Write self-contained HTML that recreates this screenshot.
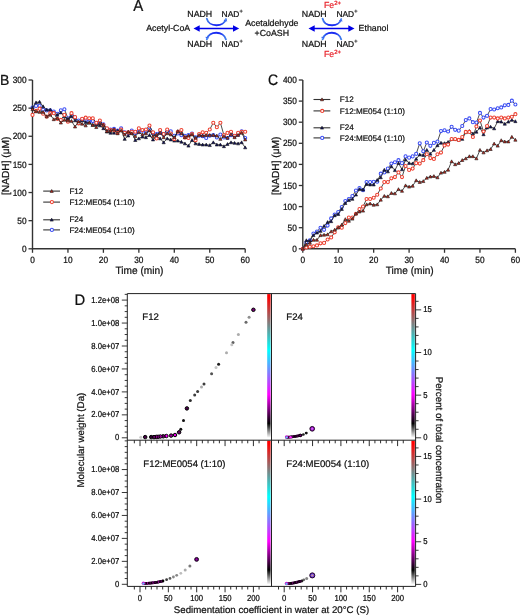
<!DOCTYPE html><html><head><meta charset="utf-8"><style>html,body{margin:0;padding:0;background:#fff;}svg{display:block;font-family:"Liberation Sans", sans-serif;will-change:transform;}text{fill:#111;stroke:#111;stroke-width:0.22px;text-rendering:geometricPrecision;}</style></head><body>
<svg width="520" height="615" viewBox="0 0 520 615">
<defs><linearGradient id="cb" x1="0" y1="0" x2="0" y2="1"><stop offset="0.02" stop-color="#ff0000"/><stop offset="0.39" stop-color="#00ffff"/><stop offset="0.7" stop-color="#ff00ff"/><stop offset="0.9" stop-color="#000000"/><stop offset="1" stop-color="#ffffff"/></linearGradient><linearGradient id="arc" x1="0" y1="0" x2="1" y2="0"><stop offset="0" stop-color="#4080ec"/><stop offset="0.3" stop-color="#1a2cf2"/><stop offset="0.7" stop-color="#1a2cf2"/><stop offset="1" stop-color="#4080ec"/></linearGradient><radialGradient id="g24"><stop offset="0" stop-color="#e090ff"/><stop offset="0.55" stop-color="#b020e0"/><stop offset="1" stop-color="#600070"/></radialGradient><radialGradient id="g12"><stop offset="0" stop-color="#a000b0"/><stop offset="1" stop-color="#40004a"/></radialGradient><radialGradient id="g24m"><stop offset="0" stop-color="#80b0ff"/><stop offset="0.5" stop-color="#8050e0"/><stop offset="1" stop-color="#6020a0"/></radialGradient></defs>
<text transform="translate(133.2,10.6) scale(1,1.07)" font-size="15">A</text>
<g font-size="8.8">
<text x="146.2" y="30.9">Acetyl-CoA</text>
<text x="187.3" y="16.8">NADH</text><text x="221.6" y="16.8" font-size="8.45">NAD<tspan font-size="5.6" dy="-3.8">+</tspan></text>
<text x="187.3" y="47.1">NADH</text><text x="221.6" y="47.1" font-size="8.45">NAD<tspan font-size="5.6" dy="-3.8">+</tspan></text>
<text x="271.8" y="25.6" text-anchor="middle">Acetaldehyde</text>
<text x="271.8" y="36" text-anchor="middle">+CoASH</text>
<text x="301.8" y="17.2">NADH</text><text x="336.4" y="17.2" font-size="8.45">NAD<tspan font-size="5.6" dy="-3.8">+</tspan></text>
<text x="301.8" y="46.9">NADH</text><text x="336.4" y="46.9" font-size="8.45">NAD<tspan font-size="5.6" dy="-3.8">+</tspan></text>
<text x="358.6" y="30.6">Ethanol</text>
<text x="324" y="7.9" style="fill:#e8232b;stroke:#e8232b">Fe<tspan font-size="6" dy="-3.4">2+</tspan></text>
<text x="324" y="57.2" style="fill:#e8232b;stroke:#e8232b">Fe<tspan font-size="6" dy="-3.4">2+</tspan></text>
</g>
<line x1="198.5" y1="28.45" x2="234.2" y2="28.45" stroke="#0000e6" stroke-width="1.6"/><path d="M193.5 28.45L199.7 25.2L199.7 31.7Z" fill="#0000e6"/><path d="M239.2 28.45L233 25.2L233 31.7Z" fill="#0000e6"/>
<line x1="313.5" y1="28.45" x2="349.5" y2="28.45" stroke="#0000e6" stroke-width="1.6"/><path d="M308.5 28.45L314.7 25.2L314.7 31.7Z" fill="#0000e6"/><path d="M354.5 28.45L348.3 25.2L348.3 31.7Z" fill="#0000e6"/>
<path d="M206.8 18.6 C208.8 27.4 223.9 27.4 225.9 19.2" fill="none" stroke="url(#arc)" stroke-width="1.9" stroke-linecap="round"/><path d="M206.8 39.2 C208.8 30.6 223.9 30.6 225.9 39.4" fill="none" stroke="url(#arc)" stroke-width="1.9" stroke-linecap="round"/><path d="M226.04 18.62L227.27 21.59L223.58 20.69Z" fill="#3a5cf2"/><circle cx="225.76" cy="19.78" r="0.55" fill="#70d8ff"/><path d="M206.66 39.78L205.4 36.82L209.1 37.68Z" fill="#3a5cf2"/><circle cx="206.94" cy="38.62" r="0.55" fill="#70d8ff"/>
<path d="M322.6 18.6 C324.6 27.4 339.2 27.4 341.2 19.2" fill="none" stroke="url(#arc)" stroke-width="1.9" stroke-linecap="round"/><path d="M322.6 39.2 C324.6 30.6 339.2 30.6 341.2 39.4" fill="none" stroke="url(#arc)" stroke-width="1.9" stroke-linecap="round"/><path d="M341.34 18.62L342.57 21.59L338.88 20.69Z" fill="#3a5cf2"/><circle cx="341.06" cy="19.78" r="0.55" fill="#70d8ff"/><path d="M322.46 39.78L321.2 36.82L324.9 37.68Z" fill="#3a5cf2"/><circle cx="322.74" cy="38.62" r="0.55" fill="#70d8ff"/>
<path d="M32.5 80L32.5 248.8L245.2 248.8" fill="none" stroke="#333333" stroke-width="1.4"/>
<line x1="28.5" y1="248.8" x2="32.5" y2="248.8" stroke="#333333" stroke-width="1.3"/>
<text transform="translate(26.5,251.9) scale(1,1.1)" font-size="8.3" text-anchor="end">0</text>
<line x1="28.5" y1="220.67" x2="32.5" y2="220.67" stroke="#333333" stroke-width="1.3"/>
<text transform="translate(26.5,223.77) scale(1,1.1)" font-size="8.3" text-anchor="end">50</text>
<line x1="28.5" y1="192.53" x2="32.5" y2="192.53" stroke="#333333" stroke-width="1.3"/>
<text transform="translate(26.5,195.63) scale(1,1.1)" font-size="8.3" text-anchor="end">100</text>
<line x1="28.5" y1="164.4" x2="32.5" y2="164.4" stroke="#333333" stroke-width="1.3"/>
<text transform="translate(26.5,167.5) scale(1,1.1)" font-size="8.3" text-anchor="end">150</text>
<line x1="28.5" y1="136.27" x2="32.5" y2="136.27" stroke="#333333" stroke-width="1.3"/>
<text transform="translate(26.5,139.37) scale(1,1.1)" font-size="8.3" text-anchor="end">200</text>
<line x1="28.5" y1="108.13" x2="32.5" y2="108.13" stroke="#333333" stroke-width="1.3"/>
<text transform="translate(26.5,111.23) scale(1,1.1)" font-size="8.3" text-anchor="end">250</text>
<line x1="28.5" y1="80" x2="32.5" y2="80" stroke="#333333" stroke-width="1.3"/>
<text transform="translate(26.5,83.1) scale(1,1.1)" font-size="8.3" text-anchor="end">300</text>
<line x1="32.5" y1="248.8" x2="32.5" y2="252.8" stroke="#333333" stroke-width="1.3"/>
<text transform="translate(32.5,262.7) scale(1,1.1)" font-size="8.3" text-anchor="middle">0</text>
<line x1="67.95" y1="248.8" x2="67.95" y2="252.8" stroke="#333333" stroke-width="1.3"/>
<text transform="translate(67.95,262.7) scale(1,1.1)" font-size="8.3" text-anchor="middle">10</text>
<line x1="103.4" y1="248.8" x2="103.4" y2="252.8" stroke="#333333" stroke-width="1.3"/>
<text transform="translate(103.4,262.7) scale(1,1.1)" font-size="8.3" text-anchor="middle">20</text>
<line x1="138.85" y1="248.8" x2="138.85" y2="252.8" stroke="#333333" stroke-width="1.3"/>
<text transform="translate(138.85,262.7) scale(1,1.1)" font-size="8.3" text-anchor="middle">30</text>
<line x1="174.3" y1="248.8" x2="174.3" y2="252.8" stroke="#333333" stroke-width="1.3"/>
<text transform="translate(174.3,262.7) scale(1,1.1)" font-size="8.3" text-anchor="middle">40</text>
<line x1="209.75" y1="248.8" x2="209.75" y2="252.8" stroke="#333333" stroke-width="1.3"/>
<text transform="translate(209.75,262.7) scale(1,1.1)" font-size="8.3" text-anchor="middle">50</text>
<line x1="245.2" y1="248.8" x2="245.2" y2="252.8" stroke="#333333" stroke-width="1.3"/>
<text transform="translate(245.2,262.7) scale(1,1.1)" font-size="8.3" text-anchor="middle">60</text>
<text transform="translate(139.45,273.7) scale(1,1.05)" font-size="10.15" text-anchor="middle">Time (min)</text>
<text transform="translate(8.9,165.8) rotate(-90)" font-size="10.2" text-anchor="middle">[NADH] (&#956;M)</text>
<text transform="translate(0,85) scale(1,1.04)" font-size="14" >B</text>
<polyline points="32.5,107.57 36.05,105.88 39.59,105.88 43.13,109.82 46.68,110.38 50.23,110.38 53.77,111.51 57.31,113.76 60.86,110.38 64.41,109.26 67.95,118.26 71.5,114.89 75.04,117.7 78.59,120.51 82.13,119.39 85.67,119.95 89.22,121.64 92.77,121.07 96.31,123.33 99.86,122.76 103.4,124.45 106.94,128.95 110.49,129.51 114.03,128.95 117.58,130.64 121.12,128.39 124.67,132.33 128.22,132.89 131.76,130.64 135.31,132.89 138.85,131.77 142.39,130.64 145.94,132.33 149.49,129.51 153.03,133.45 156.57,134.02 160.12,132.89 163.66,134.58 167.21,131.77 170.75,131.2 174.3,135.7 177.84,133.45 181.39,135.14 184.94,135.7 188.48,135.14 192.03,133.45 195.57,137.39 199.12,135.7 202.66,136.27 206.2,137.95 209.75,135.7 213.29,135.14 216.84,137.39 220.38,134.58 223.93,137.39 227.47,137.95 231.02,135.14 234.56,136.27 238.11,134.58 241.66,131.2 245.2,137.95" fill="none" stroke="#1e1e1e" stroke-width="0.8"/><circle cx="32.5" cy="107.57" r="1.55" fill="#fff" stroke="#3a4cf4" stroke-width="1.05"/><circle cx="36.05" cy="105.88" r="1.55" fill="#fff" stroke="#3a4cf4" stroke-width="1.05"/><circle cx="39.59" cy="105.88" r="1.55" fill="#fff" stroke="#3a4cf4" stroke-width="1.05"/><circle cx="43.13" cy="109.82" r="1.55" fill="#fff" stroke="#3a4cf4" stroke-width="1.05"/><circle cx="46.68" cy="110.38" r="1.55" fill="#fff" stroke="#3a4cf4" stroke-width="1.05"/><circle cx="50.23" cy="110.38" r="1.55" fill="#fff" stroke="#3a4cf4" stroke-width="1.05"/><circle cx="53.77" cy="111.51" r="1.55" fill="#fff" stroke="#3a4cf4" stroke-width="1.05"/><circle cx="57.31" cy="113.76" r="1.55" fill="#fff" stroke="#3a4cf4" stroke-width="1.05"/><circle cx="60.86" cy="110.38" r="1.55" fill="#fff" stroke="#3a4cf4" stroke-width="1.05"/><circle cx="64.41" cy="109.26" r="1.55" fill="#fff" stroke="#3a4cf4" stroke-width="1.05"/><circle cx="67.95" cy="118.26" r="1.55" fill="#fff" stroke="#3a4cf4" stroke-width="1.05"/><circle cx="71.5" cy="114.89" r="1.55" fill="#fff" stroke="#3a4cf4" stroke-width="1.05"/><circle cx="75.04" cy="117.7" r="1.55" fill="#fff" stroke="#3a4cf4" stroke-width="1.05"/><circle cx="78.59" cy="120.51" r="1.55" fill="#fff" stroke="#3a4cf4" stroke-width="1.05"/><circle cx="82.13" cy="119.39" r="1.55" fill="#fff" stroke="#3a4cf4" stroke-width="1.05"/><circle cx="85.67" cy="119.95" r="1.55" fill="#fff" stroke="#3a4cf4" stroke-width="1.05"/><circle cx="89.22" cy="121.64" r="1.55" fill="#fff" stroke="#3a4cf4" stroke-width="1.05"/><circle cx="92.77" cy="121.07" r="1.55" fill="#fff" stroke="#3a4cf4" stroke-width="1.05"/><circle cx="96.31" cy="123.33" r="1.55" fill="#fff" stroke="#3a4cf4" stroke-width="1.05"/><circle cx="99.86" cy="122.76" r="1.55" fill="#fff" stroke="#3a4cf4" stroke-width="1.05"/><circle cx="103.4" cy="124.45" r="1.55" fill="#fff" stroke="#3a4cf4" stroke-width="1.05"/><circle cx="106.94" cy="128.95" r="1.55" fill="#fff" stroke="#3a4cf4" stroke-width="1.05"/><circle cx="110.49" cy="129.51" r="1.55" fill="#fff" stroke="#3a4cf4" stroke-width="1.05"/><circle cx="114.03" cy="128.95" r="1.55" fill="#fff" stroke="#3a4cf4" stroke-width="1.05"/><circle cx="117.58" cy="130.64" r="1.55" fill="#fff" stroke="#3a4cf4" stroke-width="1.05"/><circle cx="121.12" cy="128.39" r="1.55" fill="#fff" stroke="#3a4cf4" stroke-width="1.05"/><circle cx="124.67" cy="132.33" r="1.55" fill="#fff" stroke="#3a4cf4" stroke-width="1.05"/><circle cx="128.22" cy="132.89" r="1.55" fill="#fff" stroke="#3a4cf4" stroke-width="1.05"/><circle cx="131.76" cy="130.64" r="1.55" fill="#fff" stroke="#3a4cf4" stroke-width="1.05"/><circle cx="135.31" cy="132.89" r="1.55" fill="#fff" stroke="#3a4cf4" stroke-width="1.05"/><circle cx="138.85" cy="131.77" r="1.55" fill="#fff" stroke="#3a4cf4" stroke-width="1.05"/><circle cx="142.39" cy="130.64" r="1.55" fill="#fff" stroke="#3a4cf4" stroke-width="1.05"/><circle cx="145.94" cy="132.33" r="1.55" fill="#fff" stroke="#3a4cf4" stroke-width="1.05"/><circle cx="149.49" cy="129.51" r="1.55" fill="#fff" stroke="#3a4cf4" stroke-width="1.05"/><circle cx="153.03" cy="133.45" r="1.55" fill="#fff" stroke="#3a4cf4" stroke-width="1.05"/><circle cx="156.57" cy="134.02" r="1.55" fill="#fff" stroke="#3a4cf4" stroke-width="1.05"/><circle cx="160.12" cy="132.89" r="1.55" fill="#fff" stroke="#3a4cf4" stroke-width="1.05"/><circle cx="163.66" cy="134.58" r="1.55" fill="#fff" stroke="#3a4cf4" stroke-width="1.05"/><circle cx="167.21" cy="131.77" r="1.55" fill="#fff" stroke="#3a4cf4" stroke-width="1.05"/><circle cx="170.75" cy="131.2" r="1.55" fill="#fff" stroke="#3a4cf4" stroke-width="1.05"/><circle cx="174.3" cy="135.7" r="1.55" fill="#fff" stroke="#3a4cf4" stroke-width="1.05"/><circle cx="177.84" cy="133.45" r="1.55" fill="#fff" stroke="#3a4cf4" stroke-width="1.05"/><circle cx="181.39" cy="135.14" r="1.55" fill="#fff" stroke="#3a4cf4" stroke-width="1.05"/><circle cx="184.94" cy="135.7" r="1.55" fill="#fff" stroke="#3a4cf4" stroke-width="1.05"/><circle cx="188.48" cy="135.14" r="1.55" fill="#fff" stroke="#3a4cf4" stroke-width="1.05"/><circle cx="192.03" cy="133.45" r="1.55" fill="#fff" stroke="#3a4cf4" stroke-width="1.05"/><circle cx="195.57" cy="137.39" r="1.55" fill="#fff" stroke="#3a4cf4" stroke-width="1.05"/><circle cx="199.12" cy="135.7" r="1.55" fill="#fff" stroke="#3a4cf4" stroke-width="1.05"/><circle cx="202.66" cy="136.27" r="1.55" fill="#fff" stroke="#3a4cf4" stroke-width="1.05"/><circle cx="206.2" cy="137.95" r="1.55" fill="#fff" stroke="#3a4cf4" stroke-width="1.05"/><circle cx="209.75" cy="135.7" r="1.55" fill="#fff" stroke="#3a4cf4" stroke-width="1.05"/><circle cx="213.29" cy="135.14" r="1.55" fill="#fff" stroke="#3a4cf4" stroke-width="1.05"/><circle cx="216.84" cy="137.39" r="1.55" fill="#fff" stroke="#3a4cf4" stroke-width="1.05"/><circle cx="220.38" cy="134.58" r="1.55" fill="#fff" stroke="#3a4cf4" stroke-width="1.05"/><circle cx="223.93" cy="137.39" r="1.55" fill="#fff" stroke="#3a4cf4" stroke-width="1.05"/><circle cx="227.47" cy="137.95" r="1.55" fill="#fff" stroke="#3a4cf4" stroke-width="1.05"/><circle cx="231.02" cy="135.14" r="1.55" fill="#fff" stroke="#3a4cf4" stroke-width="1.05"/><circle cx="234.56" cy="136.27" r="1.55" fill="#fff" stroke="#3a4cf4" stroke-width="1.05"/><circle cx="238.11" cy="134.58" r="1.55" fill="#fff" stroke="#3a4cf4" stroke-width="1.05"/><circle cx="241.66" cy="131.2" r="1.55" fill="#fff" stroke="#3a4cf4" stroke-width="1.05"/><circle cx="245.2" cy="137.95" r="1.55" fill="#fff" stroke="#3a4cf4" stroke-width="1.05"/>
<polyline points="32.5,107.57 36.05,102.51 39.59,101.94 43.13,106.45 46.68,109.82 50.23,109.82 53.77,112.63 57.31,114.89 60.86,112.63 64.41,116.57 67.95,118.82 71.5,116.57 75.04,120.51 78.59,123.33 82.13,120.51 85.67,122.2 89.22,122.76 92.77,125.01 96.31,124.45 99.86,125.58 103.4,128.39 106.94,131.77 110.49,132.89 114.03,132.89 117.58,130.64 121.12,130.08 124.67,139.08 128.22,135.7 131.76,132.89 135.31,140.21 138.85,138.52 142.39,136.83 145.94,137.39 149.49,135.14 153.03,139.64 156.57,136.83 160.12,138.52 163.66,142.46 167.21,138.52 170.75,139.64 174.3,140.77 177.84,140.77 181.39,141.89 184.94,143.58 188.48,145.83 192.03,140.21 195.57,143.58 199.12,144.14 202.66,144.71 206.2,144.71 209.75,145.27 213.29,142.46 216.84,144.71 220.38,144.71 223.93,146.39 227.47,144.14 231.02,142.46 234.56,143.02 238.11,143.58 241.66,142.46 245.2,147.52" fill="none" stroke="#1e1e1e" stroke-width="0.8"/><path d="M32.5 105.97L34.1 108.85L30.9 108.85Z" fill="#0c0c5c" stroke="#1a1a1a" stroke-width="0.6"/><path d="M36.05 100.91L37.65 103.79L34.45 103.79Z" fill="#0c0c5c" stroke="#1a1a1a" stroke-width="0.6"/><path d="M39.59 100.34L41.19 103.22L37.99 103.22Z" fill="#0c0c5c" stroke="#1a1a1a" stroke-width="0.6"/><path d="M43.13 104.85L44.73 107.73L41.53 107.73Z" fill="#0c0c5c" stroke="#1a1a1a" stroke-width="0.6"/><path d="M46.68 108.22L48.28 111.1L45.08 111.1Z" fill="#0c0c5c" stroke="#1a1a1a" stroke-width="0.6"/><path d="M50.23 108.22L51.83 111.1L48.62 111.1Z" fill="#0c0c5c" stroke="#1a1a1a" stroke-width="0.6"/><path d="M53.77 111.03L55.37 113.91L52.17 113.91Z" fill="#0c0c5c" stroke="#1a1a1a" stroke-width="0.6"/><path d="M57.31 113.29L58.91 116.17L55.71 116.17Z" fill="#0c0c5c" stroke="#1a1a1a" stroke-width="0.6"/><path d="M60.86 111.03L62.46 113.91L59.26 113.91Z" fill="#0c0c5c" stroke="#1a1a1a" stroke-width="0.6"/><path d="M64.41 114.97L66 117.85L62.8 117.85Z" fill="#0c0c5c" stroke="#1a1a1a" stroke-width="0.6"/><path d="M67.95 117.22L69.55 120.1L66.35 120.1Z" fill="#0c0c5c" stroke="#1a1a1a" stroke-width="0.6"/><path d="M71.5 114.97L73.09 117.85L69.9 117.85Z" fill="#0c0c5c" stroke="#1a1a1a" stroke-width="0.6"/><path d="M75.04 118.91L76.64 121.79L73.44 121.79Z" fill="#0c0c5c" stroke="#1a1a1a" stroke-width="0.6"/><path d="M78.59 121.73L80.19 124.61L76.99 124.61Z" fill="#0c0c5c" stroke="#1a1a1a" stroke-width="0.6"/><path d="M82.13 118.91L83.73 121.79L80.53 121.79Z" fill="#0c0c5c" stroke="#1a1a1a" stroke-width="0.6"/><path d="M85.67 120.6L87.27 123.48L84.08 123.48Z" fill="#0c0c5c" stroke="#1a1a1a" stroke-width="0.6"/><path d="M89.22 121.16L90.82 124.04L87.62 124.04Z" fill="#0c0c5c" stroke="#1a1a1a" stroke-width="0.6"/><path d="M92.77 123.41L94.36 126.29L91.17 126.29Z" fill="#0c0c5c" stroke="#1a1a1a" stroke-width="0.6"/><path d="M96.31 122.85L97.91 125.73L94.71 125.73Z" fill="#0c0c5c" stroke="#1a1a1a" stroke-width="0.6"/><path d="M99.86 123.98L101.45 126.86L98.26 126.86Z" fill="#0c0c5c" stroke="#1a1a1a" stroke-width="0.6"/><path d="M103.4 126.79L105 129.67L101.8 129.67Z" fill="#0c0c5c" stroke="#1a1a1a" stroke-width="0.6"/><path d="M106.94 130.17L108.54 133.05L105.34 133.05Z" fill="#0c0c5c" stroke="#1a1a1a" stroke-width="0.6"/><path d="M110.49 131.29L112.09 134.17L108.89 134.17Z" fill="#0c0c5c" stroke="#1a1a1a" stroke-width="0.6"/><path d="M114.03 131.29L115.63 134.17L112.44 134.17Z" fill="#0c0c5c" stroke="#1a1a1a" stroke-width="0.6"/><path d="M117.58 129.04L119.18 131.92L115.98 131.92Z" fill="#0c0c5c" stroke="#1a1a1a" stroke-width="0.6"/><path d="M121.12 128.48L122.72 131.36L119.53 131.36Z" fill="#0c0c5c" stroke="#1a1a1a" stroke-width="0.6"/><path d="M124.67 137.48L126.27 140.36L123.07 140.36Z" fill="#0c0c5c" stroke="#1a1a1a" stroke-width="0.6"/><path d="M128.22 134.1L129.81 136.98L126.62 136.98Z" fill="#0c0c5c" stroke="#1a1a1a" stroke-width="0.6"/><path d="M131.76 131.29L133.36 134.17L130.16 134.17Z" fill="#0c0c5c" stroke="#1a1a1a" stroke-width="0.6"/><path d="M135.31 138.61L136.91 141.49L133.71 141.49Z" fill="#0c0c5c" stroke="#1a1a1a" stroke-width="0.6"/><path d="M138.85 136.92L140.45 139.8L137.25 139.8Z" fill="#0c0c5c" stroke="#1a1a1a" stroke-width="0.6"/><path d="M142.39 135.23L143.99 138.11L140.79 138.11Z" fill="#0c0c5c" stroke="#1a1a1a" stroke-width="0.6"/><path d="M145.94 135.79L147.54 138.67L144.34 138.67Z" fill="#0c0c5c" stroke="#1a1a1a" stroke-width="0.6"/><path d="M149.49 133.54L151.09 136.42L147.89 136.42Z" fill="#0c0c5c" stroke="#1a1a1a" stroke-width="0.6"/><path d="M153.03 138.04L154.63 140.92L151.43 140.92Z" fill="#0c0c5c" stroke="#1a1a1a" stroke-width="0.6"/><path d="M156.57 135.23L158.17 138.11L154.97 138.11Z" fill="#0c0c5c" stroke="#1a1a1a" stroke-width="0.6"/><path d="M160.12 136.92L161.72 139.8L158.52 139.8Z" fill="#0c0c5c" stroke="#1a1a1a" stroke-width="0.6"/><path d="M163.66 140.86L165.26 143.74L162.06 143.74Z" fill="#0c0c5c" stroke="#1a1a1a" stroke-width="0.6"/><path d="M167.21 136.92L168.81 139.8L165.61 139.8Z" fill="#0c0c5c" stroke="#1a1a1a" stroke-width="0.6"/><path d="M170.75 138.04L172.35 140.92L169.16 140.92Z" fill="#0c0c5c" stroke="#1a1a1a" stroke-width="0.6"/><path d="M174.3 139.17L175.9 142.05L172.7 142.05Z" fill="#0c0c5c" stroke="#1a1a1a" stroke-width="0.6"/><path d="M177.84 139.17L179.44 142.05L176.25 142.05Z" fill="#0c0c5c" stroke="#1a1a1a" stroke-width="0.6"/><path d="M181.39 140.29L182.99 143.17L179.79 143.17Z" fill="#0c0c5c" stroke="#1a1a1a" stroke-width="0.6"/><path d="M184.94 141.98L186.53 144.86L183.34 144.86Z" fill="#0c0c5c" stroke="#1a1a1a" stroke-width="0.6"/><path d="M188.48 144.23L190.08 147.11L186.88 147.11Z" fill="#0c0c5c" stroke="#1a1a1a" stroke-width="0.6"/><path d="M192.03 138.61L193.62 141.49L190.43 141.49Z" fill="#0c0c5c" stroke="#1a1a1a" stroke-width="0.6"/><path d="M195.57 141.98L197.17 144.86L193.97 144.86Z" fill="#0c0c5c" stroke="#1a1a1a" stroke-width="0.6"/><path d="M199.12 142.54L200.72 145.42L197.52 145.42Z" fill="#0c0c5c" stroke="#1a1a1a" stroke-width="0.6"/><path d="M202.66 143.11L204.26 145.99L201.06 145.99Z" fill="#0c0c5c" stroke="#1a1a1a" stroke-width="0.6"/><path d="M206.2 143.11L207.8 145.99L204.6 145.99Z" fill="#0c0c5c" stroke="#1a1a1a" stroke-width="0.6"/><path d="M209.75 143.67L211.35 146.55L208.15 146.55Z" fill="#0c0c5c" stroke="#1a1a1a" stroke-width="0.6"/><path d="M213.29 140.86L214.89 143.74L211.69 143.74Z" fill="#0c0c5c" stroke="#1a1a1a" stroke-width="0.6"/><path d="M216.84 143.11L218.44 145.99L215.24 145.99Z" fill="#0c0c5c" stroke="#1a1a1a" stroke-width="0.6"/><path d="M220.38 143.11L221.98 145.99L218.78 145.99Z" fill="#0c0c5c" stroke="#1a1a1a" stroke-width="0.6"/><path d="M223.93 144.79L225.53 147.67L222.33 147.67Z" fill="#0c0c5c" stroke="#1a1a1a" stroke-width="0.6"/><path d="M227.47 142.54L229.07 145.42L225.88 145.42Z" fill="#0c0c5c" stroke="#1a1a1a" stroke-width="0.6"/><path d="M231.02 140.86L232.62 143.74L229.42 143.74Z" fill="#0c0c5c" stroke="#1a1a1a" stroke-width="0.6"/><path d="M234.56 141.42L236.16 144.3L232.97 144.3Z" fill="#0c0c5c" stroke="#1a1a1a" stroke-width="0.6"/><path d="M238.11 141.98L239.71 144.86L236.51 144.86Z" fill="#0c0c5c" stroke="#1a1a1a" stroke-width="0.6"/><path d="M241.66 140.86L243.25 143.74L240.06 143.74Z" fill="#0c0c5c" stroke="#1a1a1a" stroke-width="0.6"/><path d="M245.2 145.92L246.8 148.8L243.6 148.8Z" fill="#0c0c5c" stroke="#1a1a1a" stroke-width="0.6"/>
<polyline points="32.5,114.89 36.05,110.95 39.59,108.7 43.13,113.76 46.68,116.57 50.23,113.2 53.77,113.2 57.31,118.82 60.86,119.95 64.41,114.89 67.95,121.64 71.5,113.2 75.04,117.14 78.59,123.33 82.13,118.82 85.67,117.7 89.22,118.26 92.77,118.26 96.31,122.76 99.86,120.51 103.4,125.01 106.94,128.39 110.49,130.08 114.03,130.08 117.58,132.89 121.12,129.51 124.67,132.89 128.22,132.33 131.76,131.77 135.31,131.77 138.85,128.39 142.39,130.08 145.94,129.51 149.49,125.58 153.03,132.33 156.57,138.52 160.12,130.08 163.66,134.02 167.21,129.51 170.75,133.45 174.3,139.08 177.84,131.77 181.39,130.08 184.94,137.39 188.48,137.95 192.03,134.02 195.57,140.21 199.12,134.02 202.66,132.33 206.2,132.89 209.75,129.51 213.29,122.76 216.84,127.26 220.38,122.76 223.93,135.14 227.47,132.89 231.02,131.77 234.56,135.7 238.11,132.89 241.66,131.77 245.2,131.77" fill="none" stroke="#1e1e1e" stroke-width="0.8"/><circle cx="32.5" cy="114.89" r="1.55" fill="#fff" stroke="#ee4030" stroke-width="1.05"/><circle cx="36.05" cy="110.95" r="1.55" fill="#fff" stroke="#ee4030" stroke-width="1.05"/><circle cx="39.59" cy="108.7" r="1.55" fill="#fff" stroke="#ee4030" stroke-width="1.05"/><circle cx="43.13" cy="113.76" r="1.55" fill="#fff" stroke="#ee4030" stroke-width="1.05"/><circle cx="46.68" cy="116.57" r="1.55" fill="#fff" stroke="#ee4030" stroke-width="1.05"/><circle cx="50.23" cy="113.2" r="1.55" fill="#fff" stroke="#ee4030" stroke-width="1.05"/><circle cx="53.77" cy="113.2" r="1.55" fill="#fff" stroke="#ee4030" stroke-width="1.05"/><circle cx="57.31" cy="118.82" r="1.55" fill="#fff" stroke="#ee4030" stroke-width="1.05"/><circle cx="60.86" cy="119.95" r="1.55" fill="#fff" stroke="#ee4030" stroke-width="1.05"/><circle cx="64.41" cy="114.89" r="1.55" fill="#fff" stroke="#ee4030" stroke-width="1.05"/><circle cx="67.95" cy="121.64" r="1.55" fill="#fff" stroke="#ee4030" stroke-width="1.05"/><circle cx="71.5" cy="113.2" r="1.55" fill="#fff" stroke="#ee4030" stroke-width="1.05"/><circle cx="75.04" cy="117.14" r="1.55" fill="#fff" stroke="#ee4030" stroke-width="1.05"/><circle cx="78.59" cy="123.33" r="1.55" fill="#fff" stroke="#ee4030" stroke-width="1.05"/><circle cx="82.13" cy="118.82" r="1.55" fill="#fff" stroke="#ee4030" stroke-width="1.05"/><circle cx="85.67" cy="117.7" r="1.55" fill="#fff" stroke="#ee4030" stroke-width="1.05"/><circle cx="89.22" cy="118.26" r="1.55" fill="#fff" stroke="#ee4030" stroke-width="1.05"/><circle cx="92.77" cy="118.26" r="1.55" fill="#fff" stroke="#ee4030" stroke-width="1.05"/><circle cx="96.31" cy="122.76" r="1.55" fill="#fff" stroke="#ee4030" stroke-width="1.05"/><circle cx="99.86" cy="120.51" r="1.55" fill="#fff" stroke="#ee4030" stroke-width="1.05"/><circle cx="103.4" cy="125.01" r="1.55" fill="#fff" stroke="#ee4030" stroke-width="1.05"/><circle cx="106.94" cy="128.39" r="1.55" fill="#fff" stroke="#ee4030" stroke-width="1.05"/><circle cx="110.49" cy="130.08" r="1.55" fill="#fff" stroke="#ee4030" stroke-width="1.05"/><circle cx="114.03" cy="130.08" r="1.55" fill="#fff" stroke="#ee4030" stroke-width="1.05"/><circle cx="117.58" cy="132.89" r="1.55" fill="#fff" stroke="#ee4030" stroke-width="1.05"/><circle cx="121.12" cy="129.51" r="1.55" fill="#fff" stroke="#ee4030" stroke-width="1.05"/><circle cx="124.67" cy="132.89" r="1.55" fill="#fff" stroke="#ee4030" stroke-width="1.05"/><circle cx="128.22" cy="132.33" r="1.55" fill="#fff" stroke="#ee4030" stroke-width="1.05"/><circle cx="131.76" cy="131.77" r="1.55" fill="#fff" stroke="#ee4030" stroke-width="1.05"/><circle cx="135.31" cy="131.77" r="1.55" fill="#fff" stroke="#ee4030" stroke-width="1.05"/><circle cx="138.85" cy="128.39" r="1.55" fill="#fff" stroke="#ee4030" stroke-width="1.05"/><circle cx="142.39" cy="130.08" r="1.55" fill="#fff" stroke="#ee4030" stroke-width="1.05"/><circle cx="145.94" cy="129.51" r="1.55" fill="#fff" stroke="#ee4030" stroke-width="1.05"/><circle cx="149.49" cy="125.58" r="1.55" fill="#fff" stroke="#ee4030" stroke-width="1.05"/><circle cx="153.03" cy="132.33" r="1.55" fill="#fff" stroke="#ee4030" stroke-width="1.05"/><circle cx="156.57" cy="138.52" r="1.55" fill="#fff" stroke="#ee4030" stroke-width="1.05"/><circle cx="160.12" cy="130.08" r="1.55" fill="#fff" stroke="#ee4030" stroke-width="1.05"/><circle cx="163.66" cy="134.02" r="1.55" fill="#fff" stroke="#ee4030" stroke-width="1.05"/><circle cx="167.21" cy="129.51" r="1.55" fill="#fff" stroke="#ee4030" stroke-width="1.05"/><circle cx="170.75" cy="133.45" r="1.55" fill="#fff" stroke="#ee4030" stroke-width="1.05"/><circle cx="174.3" cy="139.08" r="1.55" fill="#fff" stroke="#ee4030" stroke-width="1.05"/><circle cx="177.84" cy="131.77" r="1.55" fill="#fff" stroke="#ee4030" stroke-width="1.05"/><circle cx="181.39" cy="130.08" r="1.55" fill="#fff" stroke="#ee4030" stroke-width="1.05"/><circle cx="184.94" cy="137.39" r="1.55" fill="#fff" stroke="#ee4030" stroke-width="1.05"/><circle cx="188.48" cy="137.95" r="1.55" fill="#fff" stroke="#ee4030" stroke-width="1.05"/><circle cx="192.03" cy="134.02" r="1.55" fill="#fff" stroke="#ee4030" stroke-width="1.05"/><circle cx="195.57" cy="140.21" r="1.55" fill="#fff" stroke="#ee4030" stroke-width="1.05"/><circle cx="199.12" cy="134.02" r="1.55" fill="#fff" stroke="#ee4030" stroke-width="1.05"/><circle cx="202.66" cy="132.33" r="1.55" fill="#fff" stroke="#ee4030" stroke-width="1.05"/><circle cx="206.2" cy="132.89" r="1.55" fill="#fff" stroke="#ee4030" stroke-width="1.05"/><circle cx="209.75" cy="129.51" r="1.55" fill="#fff" stroke="#ee4030" stroke-width="1.05"/><circle cx="213.29" cy="122.76" r="1.55" fill="#fff" stroke="#ee4030" stroke-width="1.05"/><circle cx="216.84" cy="127.26" r="1.55" fill="#fff" stroke="#ee4030" stroke-width="1.05"/><circle cx="220.38" cy="122.76" r="1.55" fill="#fff" stroke="#ee4030" stroke-width="1.05"/><circle cx="223.93" cy="135.14" r="1.55" fill="#fff" stroke="#ee4030" stroke-width="1.05"/><circle cx="227.47" cy="132.89" r="1.55" fill="#fff" stroke="#ee4030" stroke-width="1.05"/><circle cx="231.02" cy="131.77" r="1.55" fill="#fff" stroke="#ee4030" stroke-width="1.05"/><circle cx="234.56" cy="135.7" r="1.55" fill="#fff" stroke="#ee4030" stroke-width="1.05"/><circle cx="238.11" cy="132.89" r="1.55" fill="#fff" stroke="#ee4030" stroke-width="1.05"/><circle cx="241.66" cy="131.77" r="1.55" fill="#fff" stroke="#ee4030" stroke-width="1.05"/><circle cx="245.2" cy="131.77" r="1.55" fill="#fff" stroke="#ee4030" stroke-width="1.05"/>
<polyline points="32.5,109.26 36.05,111.51 39.59,112.07 43.13,112.07 46.68,116.57 50.23,114.89 53.77,119.39 57.31,118.26 60.86,122.76 64.41,119.95 67.95,120.51 71.5,121.07 75.04,126.7 78.59,121.64 82.13,123.89 85.67,125.58 89.22,122.76 92.77,125.01 96.31,127.26 99.86,123.33 103.4,125.01 106.94,131.2 110.49,130.64 114.03,129.51 117.58,133.45 121.12,130.64 124.67,134.58 128.22,131.77 131.76,133.45 135.31,136.27 138.85,132.33 142.39,134.58 145.94,133.45 149.49,130.64 153.03,136.27 156.57,134.58 160.12,132.89 163.66,137.39 167.21,133.45 170.75,134.58 174.3,137.39 177.84,131.2 181.39,133.45 184.94,137.39 188.48,135.7 192.03,134.58 195.57,137.95 199.12,135.14 202.66,135.7 206.2,135.14 209.75,135.14 213.29,135.14 216.84,135.7 220.38,139.08 223.93,136.27 227.47,137.95 231.02,134.58 234.56,137.39 238.11,135.14 241.66,132.89 245.2,139.64" fill="none" stroke="#1e1e1e" stroke-width="0.8"/><path d="M32.5 107.66L34.1 110.54L30.9 110.54Z" fill="#c0281c" stroke="#1a1a1a" stroke-width="0.6"/><path d="M36.05 109.91L37.65 112.79L34.45 112.79Z" fill="#c0281c" stroke="#1a1a1a" stroke-width="0.6"/><path d="M39.59 110.47L41.19 113.35L37.99 113.35Z" fill="#c0281c" stroke="#1a1a1a" stroke-width="0.6"/><path d="M43.13 110.47L44.73 113.35L41.53 113.35Z" fill="#c0281c" stroke="#1a1a1a" stroke-width="0.6"/><path d="M46.68 114.97L48.28 117.85L45.08 117.85Z" fill="#c0281c" stroke="#1a1a1a" stroke-width="0.6"/><path d="M50.23 113.29L51.83 116.17L48.62 116.17Z" fill="#c0281c" stroke="#1a1a1a" stroke-width="0.6"/><path d="M53.77 117.79L55.37 120.67L52.17 120.67Z" fill="#c0281c" stroke="#1a1a1a" stroke-width="0.6"/><path d="M57.31 116.66L58.91 119.54L55.71 119.54Z" fill="#c0281c" stroke="#1a1a1a" stroke-width="0.6"/><path d="M60.86 121.16L62.46 124.04L59.26 124.04Z" fill="#c0281c" stroke="#1a1a1a" stroke-width="0.6"/><path d="M64.41 118.35L66 121.23L62.8 121.23Z" fill="#c0281c" stroke="#1a1a1a" stroke-width="0.6"/><path d="M67.95 118.91L69.55 121.79L66.35 121.79Z" fill="#c0281c" stroke="#1a1a1a" stroke-width="0.6"/><path d="M71.5 119.47L73.09 122.35L69.9 122.35Z" fill="#c0281c" stroke="#1a1a1a" stroke-width="0.6"/><path d="M75.04 125.1L76.64 127.98L73.44 127.98Z" fill="#c0281c" stroke="#1a1a1a" stroke-width="0.6"/><path d="M78.59 120.04L80.19 122.92L76.99 122.92Z" fill="#c0281c" stroke="#1a1a1a" stroke-width="0.6"/><path d="M82.13 122.29L83.73 125.17L80.53 125.17Z" fill="#c0281c" stroke="#1a1a1a" stroke-width="0.6"/><path d="M85.67 123.98L87.27 126.86L84.08 126.86Z" fill="#c0281c" stroke="#1a1a1a" stroke-width="0.6"/><path d="M89.22 121.16L90.82 124.04L87.62 124.04Z" fill="#c0281c" stroke="#1a1a1a" stroke-width="0.6"/><path d="M92.77 123.41L94.36 126.29L91.17 126.29Z" fill="#c0281c" stroke="#1a1a1a" stroke-width="0.6"/><path d="M96.31 125.66L97.91 128.54L94.71 128.54Z" fill="#c0281c" stroke="#1a1a1a" stroke-width="0.6"/><path d="M99.86 121.73L101.45 124.61L98.26 124.61Z" fill="#c0281c" stroke="#1a1a1a" stroke-width="0.6"/><path d="M103.4 123.41L105 126.29L101.8 126.29Z" fill="#c0281c" stroke="#1a1a1a" stroke-width="0.6"/><path d="M106.94 129.6L108.54 132.48L105.34 132.48Z" fill="#c0281c" stroke="#1a1a1a" stroke-width="0.6"/><path d="M110.49 129.04L112.09 131.92L108.89 131.92Z" fill="#c0281c" stroke="#1a1a1a" stroke-width="0.6"/><path d="M114.03 127.91L115.63 130.79L112.44 130.79Z" fill="#c0281c" stroke="#1a1a1a" stroke-width="0.6"/><path d="M117.58 131.85L119.18 134.73L115.98 134.73Z" fill="#c0281c" stroke="#1a1a1a" stroke-width="0.6"/><path d="M121.12 129.04L122.72 131.92L119.53 131.92Z" fill="#c0281c" stroke="#1a1a1a" stroke-width="0.6"/><path d="M124.67 132.98L126.27 135.86L123.07 135.86Z" fill="#c0281c" stroke="#1a1a1a" stroke-width="0.6"/><path d="M128.22 130.17L129.81 133.05L126.62 133.05Z" fill="#c0281c" stroke="#1a1a1a" stroke-width="0.6"/><path d="M131.76 131.85L133.36 134.73L130.16 134.73Z" fill="#c0281c" stroke="#1a1a1a" stroke-width="0.6"/><path d="M135.31 134.67L136.91 137.55L133.71 137.55Z" fill="#c0281c" stroke="#1a1a1a" stroke-width="0.6"/><path d="M138.85 130.73L140.45 133.61L137.25 133.61Z" fill="#c0281c" stroke="#1a1a1a" stroke-width="0.6"/><path d="M142.39 132.98L143.99 135.86L140.79 135.86Z" fill="#c0281c" stroke="#1a1a1a" stroke-width="0.6"/><path d="M145.94 131.85L147.54 134.73L144.34 134.73Z" fill="#c0281c" stroke="#1a1a1a" stroke-width="0.6"/><path d="M149.49 129.04L151.09 131.92L147.89 131.92Z" fill="#c0281c" stroke="#1a1a1a" stroke-width="0.6"/><path d="M153.03 134.67L154.63 137.55L151.43 137.55Z" fill="#c0281c" stroke="#1a1a1a" stroke-width="0.6"/><path d="M156.57 132.98L158.17 135.86L154.97 135.86Z" fill="#c0281c" stroke="#1a1a1a" stroke-width="0.6"/><path d="M160.12 131.29L161.72 134.17L158.52 134.17Z" fill="#c0281c" stroke="#1a1a1a" stroke-width="0.6"/><path d="M163.66 135.79L165.26 138.67L162.06 138.67Z" fill="#c0281c" stroke="#1a1a1a" stroke-width="0.6"/><path d="M167.21 131.85L168.81 134.73L165.61 134.73Z" fill="#c0281c" stroke="#1a1a1a" stroke-width="0.6"/><path d="M170.75 132.98L172.35 135.86L169.16 135.86Z" fill="#c0281c" stroke="#1a1a1a" stroke-width="0.6"/><path d="M174.3 135.79L175.9 138.67L172.7 138.67Z" fill="#c0281c" stroke="#1a1a1a" stroke-width="0.6"/><path d="M177.84 129.6L179.44 132.48L176.25 132.48Z" fill="#c0281c" stroke="#1a1a1a" stroke-width="0.6"/><path d="M181.39 131.85L182.99 134.73L179.79 134.73Z" fill="#c0281c" stroke="#1a1a1a" stroke-width="0.6"/><path d="M184.94 135.79L186.53 138.67L183.34 138.67Z" fill="#c0281c" stroke="#1a1a1a" stroke-width="0.6"/><path d="M188.48 134.1L190.08 136.98L186.88 136.98Z" fill="#c0281c" stroke="#1a1a1a" stroke-width="0.6"/><path d="M192.03 132.98L193.62 135.86L190.43 135.86Z" fill="#c0281c" stroke="#1a1a1a" stroke-width="0.6"/><path d="M195.57 136.35L197.17 139.23L193.97 139.23Z" fill="#c0281c" stroke="#1a1a1a" stroke-width="0.6"/><path d="M199.12 133.54L200.72 136.42L197.52 136.42Z" fill="#c0281c" stroke="#1a1a1a" stroke-width="0.6"/><path d="M202.66 134.1L204.26 136.98L201.06 136.98Z" fill="#c0281c" stroke="#1a1a1a" stroke-width="0.6"/><path d="M206.2 133.54L207.8 136.42L204.6 136.42Z" fill="#c0281c" stroke="#1a1a1a" stroke-width="0.6"/><path d="M209.75 133.54L211.35 136.42L208.15 136.42Z" fill="#c0281c" stroke="#1a1a1a" stroke-width="0.6"/><path d="M213.29 133.54L214.89 136.42L211.69 136.42Z" fill="#c0281c" stroke="#1a1a1a" stroke-width="0.6"/><path d="M216.84 134.1L218.44 136.98L215.24 136.98Z" fill="#c0281c" stroke="#1a1a1a" stroke-width="0.6"/><path d="M220.38 137.48L221.98 140.36L218.78 140.36Z" fill="#c0281c" stroke="#1a1a1a" stroke-width="0.6"/><path d="M223.93 134.67L225.53 137.55L222.33 137.55Z" fill="#c0281c" stroke="#1a1a1a" stroke-width="0.6"/><path d="M227.47 136.35L229.07 139.23L225.88 139.23Z" fill="#c0281c" stroke="#1a1a1a" stroke-width="0.6"/><path d="M231.02 132.98L232.62 135.86L229.42 135.86Z" fill="#c0281c" stroke="#1a1a1a" stroke-width="0.6"/><path d="M234.56 135.79L236.16 138.67L232.97 138.67Z" fill="#c0281c" stroke="#1a1a1a" stroke-width="0.6"/><path d="M238.11 133.54L239.71 136.42L236.51 136.42Z" fill="#c0281c" stroke="#1a1a1a" stroke-width="0.6"/><path d="M241.66 131.29L243.25 134.17L240.06 134.17Z" fill="#c0281c" stroke="#1a1a1a" stroke-width="0.6"/><path d="M245.2 138.04L246.8 140.92L243.6 140.92Z" fill="#c0281c" stroke="#1a1a1a" stroke-width="0.6"/>
<line x1="43.2" y1="191.1" x2="60" y2="191.1" stroke="#333" stroke-width="1.1"/>
<path d="M51.7 189.5L53.3 192.38L50.1 192.38Z" fill="#c0281c" stroke="#1a1a1a" stroke-width="0.6"/>
<text x="69.4" y="193.7" font-size="8.1">F12</text>
<line x1="43.2" y1="202.1" x2="60" y2="202.1" stroke="#333" stroke-width="1.1"/>
<circle cx="51.9" cy="202.1" r="1.55" fill="#fff" stroke="#ee4030" stroke-width="1.05"/>
<text x="69.4" y="204.7" font-size="8.1">F12:ME054 (1:10)</text>
<line x1="43.2" y1="219.8" x2="60" y2="219.8" stroke="#333" stroke-width="1.1"/>
<path d="M51.7 218.2L53.3 221.08L50.1 221.08Z" fill="#0c0c5c" stroke="#1a1a1a" stroke-width="0.6"/>
<text x="69.4" y="222.4" font-size="8.1">F24</text>
<line x1="43.2" y1="229.9" x2="60" y2="229.9" stroke="#333" stroke-width="1.1"/>
<circle cx="51.9" cy="229.9" r="1.55" fill="#fff" stroke="#3a4cf4" stroke-width="1.05"/>
<text x="69.4" y="232.5" font-size="8.1">F24:ME054 (1:10)</text>
<path d="M302.8 80L302.8 248.8L515.4 248.8" fill="none" stroke="#333333" stroke-width="1.4"/>
<line x1="298.8" y1="248.8" x2="302.8" y2="248.8" stroke="#333333" stroke-width="1.3"/>
<text transform="translate(296.8,251.9) scale(1,1.1)" font-size="8.3" text-anchor="end">0</text>
<line x1="298.8" y1="227.7" x2="302.8" y2="227.7" stroke="#333333" stroke-width="1.3"/>
<text transform="translate(296.8,230.8) scale(1,1.1)" font-size="8.3" text-anchor="end">50</text>
<line x1="298.8" y1="206.6" x2="302.8" y2="206.6" stroke="#333333" stroke-width="1.3"/>
<text transform="translate(296.8,209.7) scale(1,1.1)" font-size="8.3" text-anchor="end">100</text>
<line x1="298.8" y1="185.5" x2="302.8" y2="185.5" stroke="#333333" stroke-width="1.3"/>
<text transform="translate(296.8,188.6) scale(1,1.1)" font-size="8.3" text-anchor="end">150</text>
<line x1="298.8" y1="164.4" x2="302.8" y2="164.4" stroke="#333333" stroke-width="1.3"/>
<text transform="translate(296.8,167.5) scale(1,1.1)" font-size="8.3" text-anchor="end">200</text>
<line x1="298.8" y1="143.3" x2="302.8" y2="143.3" stroke="#333333" stroke-width="1.3"/>
<text transform="translate(296.8,146.4) scale(1,1.1)" font-size="8.3" text-anchor="end">250</text>
<line x1="298.8" y1="122.2" x2="302.8" y2="122.2" stroke="#333333" stroke-width="1.3"/>
<text transform="translate(296.8,125.3) scale(1,1.1)" font-size="8.3" text-anchor="end">300</text>
<line x1="298.8" y1="101.1" x2="302.8" y2="101.1" stroke="#333333" stroke-width="1.3"/>
<text transform="translate(296.8,104.2) scale(1,1.1)" font-size="8.3" text-anchor="end">350</text>
<line x1="298.8" y1="80" x2="302.8" y2="80" stroke="#333333" stroke-width="1.3"/>
<text transform="translate(296.8,83.1) scale(1,1.1)" font-size="8.3" text-anchor="end">400</text>
<line x1="302.8" y1="248.8" x2="302.8" y2="252.8" stroke="#333333" stroke-width="1.3"/>
<text transform="translate(302.8,262.7) scale(1,1.1)" font-size="8.3" text-anchor="middle">0</text>
<line x1="338.23" y1="248.8" x2="338.23" y2="252.8" stroke="#333333" stroke-width="1.3"/>
<text transform="translate(338.23,262.7) scale(1,1.1)" font-size="8.3" text-anchor="middle">10</text>
<line x1="373.67" y1="248.8" x2="373.67" y2="252.8" stroke="#333333" stroke-width="1.3"/>
<text transform="translate(373.67,262.7) scale(1,1.1)" font-size="8.3" text-anchor="middle">20</text>
<line x1="409.1" y1="248.8" x2="409.1" y2="252.8" stroke="#333333" stroke-width="1.3"/>
<text transform="translate(409.1,262.7) scale(1,1.1)" font-size="8.3" text-anchor="middle">30</text>
<line x1="444.53" y1="248.8" x2="444.53" y2="252.8" stroke="#333333" stroke-width="1.3"/>
<text transform="translate(444.53,262.7) scale(1,1.1)" font-size="8.3" text-anchor="middle">40</text>
<line x1="479.97" y1="248.8" x2="479.97" y2="252.8" stroke="#333333" stroke-width="1.3"/>
<text transform="translate(479.97,262.7) scale(1,1.1)" font-size="8.3" text-anchor="middle">50</text>
<line x1="515.4" y1="248.8" x2="515.4" y2="252.8" stroke="#333333" stroke-width="1.3"/>
<text transform="translate(515.4,262.7) scale(1,1.1)" font-size="8.3" text-anchor="middle">60</text>
<text transform="translate(409.7,273.7) scale(1,1.05)" font-size="10.15" text-anchor="middle">Time (min)</text>
<text transform="translate(278.9,165.8) rotate(-90)" font-size="10.2" text-anchor="middle">[NADH] (&#956;M)</text>
<text transform="translate(268,85.4) scale(1,1.08)" font-size="14" >C</text>
<polyline points="302.8,248.8 306.34,242.47 309.89,240.36 313.43,233.61 316.97,231.5 320.52,227.7 324.06,229.81 327.6,225.59 331.15,218.42 334.69,214.62 338.23,212.09 341.78,207.02 345.32,201.11 348.86,199 352.41,196.05 355.95,190.56 359.49,188.03 363.04,190.14 366.58,182.12 370.12,182.12 373.67,181.7 377.21,181.7 380.75,173.68 384.3,172.42 387.84,168.62 391.38,163.56 394.93,162.29 398.47,160.18 402.01,163.13 405.56,156.38 409.1,157.65 412.64,156.38 416.19,153.85 419.73,143.3 423.27,151.32 426.82,142.46 430.36,145.83 433.9,142.88 437.45,141.61 440.99,131.06 444.53,130.22 448.08,131.48 451.62,126.84 455.16,129.8 458.71,130.64 462.25,126 465.79,120.09 469.34,118.4 472.88,122.2 476.42,122.62 479.97,112.92 483.51,117.56 487.05,115.87 490.6,109.12 494.14,109.54 497.68,108.27 501.23,107.43 504.77,105.32 508.31,104.9 511.86,100.68 515.4,104.48" fill="none" stroke="#1e1e1e" stroke-width="0.8"/><circle cx="302.8" cy="248.8" r="1.55" fill="#fff" stroke="#3a4cf4" stroke-width="1.05"/><circle cx="306.34" cy="242.47" r="1.55" fill="#fff" stroke="#3a4cf4" stroke-width="1.05"/><circle cx="309.89" cy="240.36" r="1.55" fill="#fff" stroke="#3a4cf4" stroke-width="1.05"/><circle cx="313.43" cy="233.61" r="1.55" fill="#fff" stroke="#3a4cf4" stroke-width="1.05"/><circle cx="316.97" cy="231.5" r="1.55" fill="#fff" stroke="#3a4cf4" stroke-width="1.05"/><circle cx="320.52" cy="227.7" r="1.55" fill="#fff" stroke="#3a4cf4" stroke-width="1.05"/><circle cx="324.06" cy="229.81" r="1.55" fill="#fff" stroke="#3a4cf4" stroke-width="1.05"/><circle cx="327.6" cy="225.59" r="1.55" fill="#fff" stroke="#3a4cf4" stroke-width="1.05"/><circle cx="331.15" cy="218.42" r="1.55" fill="#fff" stroke="#3a4cf4" stroke-width="1.05"/><circle cx="334.69" cy="214.62" r="1.55" fill="#fff" stroke="#3a4cf4" stroke-width="1.05"/><circle cx="338.23" cy="212.09" r="1.55" fill="#fff" stroke="#3a4cf4" stroke-width="1.05"/><circle cx="341.78" cy="207.02" r="1.55" fill="#fff" stroke="#3a4cf4" stroke-width="1.05"/><circle cx="345.32" cy="201.11" r="1.55" fill="#fff" stroke="#3a4cf4" stroke-width="1.05"/><circle cx="348.86" cy="199" r="1.55" fill="#fff" stroke="#3a4cf4" stroke-width="1.05"/><circle cx="352.41" cy="196.05" r="1.55" fill="#fff" stroke="#3a4cf4" stroke-width="1.05"/><circle cx="355.95" cy="190.56" r="1.55" fill="#fff" stroke="#3a4cf4" stroke-width="1.05"/><circle cx="359.49" cy="188.03" r="1.55" fill="#fff" stroke="#3a4cf4" stroke-width="1.05"/><circle cx="363.04" cy="190.14" r="1.55" fill="#fff" stroke="#3a4cf4" stroke-width="1.05"/><circle cx="366.58" cy="182.12" r="1.55" fill="#fff" stroke="#3a4cf4" stroke-width="1.05"/><circle cx="370.12" cy="182.12" r="1.55" fill="#fff" stroke="#3a4cf4" stroke-width="1.05"/><circle cx="373.67" cy="181.7" r="1.55" fill="#fff" stroke="#3a4cf4" stroke-width="1.05"/><circle cx="377.21" cy="181.7" r="1.55" fill="#fff" stroke="#3a4cf4" stroke-width="1.05"/><circle cx="380.75" cy="173.68" r="1.55" fill="#fff" stroke="#3a4cf4" stroke-width="1.05"/><circle cx="384.3" cy="172.42" r="1.55" fill="#fff" stroke="#3a4cf4" stroke-width="1.05"/><circle cx="387.84" cy="168.62" r="1.55" fill="#fff" stroke="#3a4cf4" stroke-width="1.05"/><circle cx="391.38" cy="163.56" r="1.55" fill="#fff" stroke="#3a4cf4" stroke-width="1.05"/><circle cx="394.93" cy="162.29" r="1.55" fill="#fff" stroke="#3a4cf4" stroke-width="1.05"/><circle cx="398.47" cy="160.18" r="1.55" fill="#fff" stroke="#3a4cf4" stroke-width="1.05"/><circle cx="402.01" cy="163.13" r="1.55" fill="#fff" stroke="#3a4cf4" stroke-width="1.05"/><circle cx="405.56" cy="156.38" r="1.55" fill="#fff" stroke="#3a4cf4" stroke-width="1.05"/><circle cx="409.1" cy="157.65" r="1.55" fill="#fff" stroke="#3a4cf4" stroke-width="1.05"/><circle cx="412.64" cy="156.38" r="1.55" fill="#fff" stroke="#3a4cf4" stroke-width="1.05"/><circle cx="416.19" cy="153.85" r="1.55" fill="#fff" stroke="#3a4cf4" stroke-width="1.05"/><circle cx="419.73" cy="143.3" r="1.55" fill="#fff" stroke="#3a4cf4" stroke-width="1.05"/><circle cx="423.27" cy="151.32" r="1.55" fill="#fff" stroke="#3a4cf4" stroke-width="1.05"/><circle cx="426.82" cy="142.46" r="1.55" fill="#fff" stroke="#3a4cf4" stroke-width="1.05"/><circle cx="430.36" cy="145.83" r="1.55" fill="#fff" stroke="#3a4cf4" stroke-width="1.05"/><circle cx="433.9" cy="142.88" r="1.55" fill="#fff" stroke="#3a4cf4" stroke-width="1.05"/><circle cx="437.45" cy="141.61" r="1.55" fill="#fff" stroke="#3a4cf4" stroke-width="1.05"/><circle cx="440.99" cy="131.06" r="1.55" fill="#fff" stroke="#3a4cf4" stroke-width="1.05"/><circle cx="444.53" cy="130.22" r="1.55" fill="#fff" stroke="#3a4cf4" stroke-width="1.05"/><circle cx="448.08" cy="131.48" r="1.55" fill="#fff" stroke="#3a4cf4" stroke-width="1.05"/><circle cx="451.62" cy="126.84" r="1.55" fill="#fff" stroke="#3a4cf4" stroke-width="1.05"/><circle cx="455.16" cy="129.8" r="1.55" fill="#fff" stroke="#3a4cf4" stroke-width="1.05"/><circle cx="458.71" cy="130.64" r="1.55" fill="#fff" stroke="#3a4cf4" stroke-width="1.05"/><circle cx="462.25" cy="126" r="1.55" fill="#fff" stroke="#3a4cf4" stroke-width="1.05"/><circle cx="465.79" cy="120.09" r="1.55" fill="#fff" stroke="#3a4cf4" stroke-width="1.05"/><circle cx="469.34" cy="118.4" r="1.55" fill="#fff" stroke="#3a4cf4" stroke-width="1.05"/><circle cx="472.88" cy="122.2" r="1.55" fill="#fff" stroke="#3a4cf4" stroke-width="1.05"/><circle cx="476.42" cy="122.62" r="1.55" fill="#fff" stroke="#3a4cf4" stroke-width="1.05"/><circle cx="479.97" cy="112.92" r="1.55" fill="#fff" stroke="#3a4cf4" stroke-width="1.05"/><circle cx="483.51" cy="117.56" r="1.55" fill="#fff" stroke="#3a4cf4" stroke-width="1.05"/><circle cx="487.05" cy="115.87" r="1.55" fill="#fff" stroke="#3a4cf4" stroke-width="1.05"/><circle cx="490.6" cy="109.12" r="1.55" fill="#fff" stroke="#3a4cf4" stroke-width="1.05"/><circle cx="494.14" cy="109.54" r="1.55" fill="#fff" stroke="#3a4cf4" stroke-width="1.05"/><circle cx="497.68" cy="108.27" r="1.55" fill="#fff" stroke="#3a4cf4" stroke-width="1.05"/><circle cx="501.23" cy="107.43" r="1.55" fill="#fff" stroke="#3a4cf4" stroke-width="1.05"/><circle cx="504.77" cy="105.32" r="1.55" fill="#fff" stroke="#3a4cf4" stroke-width="1.05"/><circle cx="508.31" cy="104.9" r="1.55" fill="#fff" stroke="#3a4cf4" stroke-width="1.05"/><circle cx="511.86" cy="100.68" r="1.55" fill="#fff" stroke="#3a4cf4" stroke-width="1.05"/><circle cx="515.4" cy="104.48" r="1.55" fill="#fff" stroke="#3a4cf4" stroke-width="1.05"/>
<polyline points="302.8,248.8 306.34,240.36 309.89,240.78 313.43,235.3 316.97,232.76 320.52,231.08 324.06,226.01 327.6,222.21 331.15,221.37 334.69,215.46 338.23,214.2 341.78,209.13 345.32,203.22 348.86,200.27 352.41,199 355.95,194.78 359.49,189.3 363.04,189.72 366.58,184.23 370.12,184.66 373.67,184.66 377.21,180.01 380.75,177.48 384.3,169.89 387.84,171.57 391.38,166.51 394.93,170.31 398.47,163.13 402.01,169.46 405.56,159.76 409.1,163.13 412.64,163.56 416.19,158.91 419.73,154.69 423.27,155.12 426.82,150.05 430.36,153.85 433.9,150.05 437.45,145.41 440.99,142.88 444.53,143.3 448.08,142.03 451.62,139.08 455.16,139.08 458.71,139.92 462.25,139.08 465.79,132.33 469.34,131.06 472.88,133.59 476.42,131.91 479.97,127.69 483.51,134.44 487.05,127.69 490.6,126.84 494.14,128.53 497.68,121.36 501.23,121.78 504.77,123.89 508.31,121.78 511.86,120.09 515.4,121.36" fill="none" stroke="#1e1e1e" stroke-width="0.8"/><path d="M302.8 247.2L304.4 250.08L301.2 250.08Z" fill="#0c0c5c" stroke="#1a1a1a" stroke-width="0.6"/><path d="M306.34 238.76L307.94 241.64L304.74 241.64Z" fill="#0c0c5c" stroke="#1a1a1a" stroke-width="0.6"/><path d="M309.89 239.18L311.49 242.06L308.29 242.06Z" fill="#0c0c5c" stroke="#1a1a1a" stroke-width="0.6"/><path d="M313.43 233.7L315.03 236.58L311.83 236.58Z" fill="#0c0c5c" stroke="#1a1a1a" stroke-width="0.6"/><path d="M316.97 231.16L318.57 234.04L315.37 234.04Z" fill="#0c0c5c" stroke="#1a1a1a" stroke-width="0.6"/><path d="M320.52 229.48L322.12 232.36L318.92 232.36Z" fill="#0c0c5c" stroke="#1a1a1a" stroke-width="0.6"/><path d="M324.06 224.41L325.66 227.29L322.46 227.29Z" fill="#0c0c5c" stroke="#1a1a1a" stroke-width="0.6"/><path d="M327.6 220.61L329.2 223.49L326 223.49Z" fill="#0c0c5c" stroke="#1a1a1a" stroke-width="0.6"/><path d="M331.15 219.77L332.75 222.65L329.55 222.65Z" fill="#0c0c5c" stroke="#1a1a1a" stroke-width="0.6"/><path d="M334.69 213.86L336.29 216.74L333.09 216.74Z" fill="#0c0c5c" stroke="#1a1a1a" stroke-width="0.6"/><path d="M338.23 212.6L339.83 215.48L336.63 215.48Z" fill="#0c0c5c" stroke="#1a1a1a" stroke-width="0.6"/><path d="M341.78 207.53L343.38 210.41L340.18 210.41Z" fill="#0c0c5c" stroke="#1a1a1a" stroke-width="0.6"/><path d="M345.32 201.62L346.92 204.5L343.72 204.5Z" fill="#0c0c5c" stroke="#1a1a1a" stroke-width="0.6"/><path d="M348.86 198.67L350.46 201.55L347.26 201.55Z" fill="#0c0c5c" stroke="#1a1a1a" stroke-width="0.6"/><path d="M352.41 197.4L354.01 200.28L350.81 200.28Z" fill="#0c0c5c" stroke="#1a1a1a" stroke-width="0.6"/><path d="M355.95 193.18L357.55 196.06L354.35 196.06Z" fill="#0c0c5c" stroke="#1a1a1a" stroke-width="0.6"/><path d="M359.49 187.7L361.09 190.58L357.89 190.58Z" fill="#0c0c5c" stroke="#1a1a1a" stroke-width="0.6"/><path d="M363.04 188.12L364.64 191L361.44 191Z" fill="#0c0c5c" stroke="#1a1a1a" stroke-width="0.6"/><path d="M366.58 182.63L368.18 185.51L364.98 185.51Z" fill="#0c0c5c" stroke="#1a1a1a" stroke-width="0.6"/><path d="M370.12 183.06L371.72 185.94L368.52 185.94Z" fill="#0c0c5c" stroke="#1a1a1a" stroke-width="0.6"/><path d="M373.67 183.06L375.27 185.94L372.07 185.94Z" fill="#0c0c5c" stroke="#1a1a1a" stroke-width="0.6"/><path d="M377.21 178.41L378.81 181.29L375.61 181.29Z" fill="#0c0c5c" stroke="#1a1a1a" stroke-width="0.6"/><path d="M380.75 175.88L382.35 178.76L379.15 178.76Z" fill="#0c0c5c" stroke="#1a1a1a" stroke-width="0.6"/><path d="M384.3 168.29L385.9 171.17L382.7 171.17Z" fill="#0c0c5c" stroke="#1a1a1a" stroke-width="0.6"/><path d="M387.84 169.97L389.44 172.85L386.24 172.85Z" fill="#0c0c5c" stroke="#1a1a1a" stroke-width="0.6"/><path d="M391.38 164.91L392.98 167.79L389.78 167.79Z" fill="#0c0c5c" stroke="#1a1a1a" stroke-width="0.6"/><path d="M394.93 168.71L396.53 171.59L393.33 171.59Z" fill="#0c0c5c" stroke="#1a1a1a" stroke-width="0.6"/><path d="M398.47 161.53L400.07 164.41L396.87 164.41Z" fill="#0c0c5c" stroke="#1a1a1a" stroke-width="0.6"/><path d="M402.01 167.86L403.61 170.74L400.41 170.74Z" fill="#0c0c5c" stroke="#1a1a1a" stroke-width="0.6"/><path d="M405.56 158.16L407.16 161.04L403.96 161.04Z" fill="#0c0c5c" stroke="#1a1a1a" stroke-width="0.6"/><path d="M409.1 161.53L410.7 164.41L407.5 164.41Z" fill="#0c0c5c" stroke="#1a1a1a" stroke-width="0.6"/><path d="M412.64 161.96L414.24 164.84L411.04 164.84Z" fill="#0c0c5c" stroke="#1a1a1a" stroke-width="0.6"/><path d="M416.19 157.31L417.79 160.19L414.59 160.19Z" fill="#0c0c5c" stroke="#1a1a1a" stroke-width="0.6"/><path d="M419.73 153.09L421.33 155.97L418.13 155.97Z" fill="#0c0c5c" stroke="#1a1a1a" stroke-width="0.6"/><path d="M423.27 153.52L424.87 156.4L421.67 156.4Z" fill="#0c0c5c" stroke="#1a1a1a" stroke-width="0.6"/><path d="M426.82 148.45L428.42 151.33L425.22 151.33Z" fill="#0c0c5c" stroke="#1a1a1a" stroke-width="0.6"/><path d="M430.36 152.25L431.96 155.13L428.76 155.13Z" fill="#0c0c5c" stroke="#1a1a1a" stroke-width="0.6"/><path d="M433.9 148.45L435.5 151.33L432.3 151.33Z" fill="#0c0c5c" stroke="#1a1a1a" stroke-width="0.6"/><path d="M437.45 143.81L439.05 146.69L435.85 146.69Z" fill="#0c0c5c" stroke="#1a1a1a" stroke-width="0.6"/><path d="M440.99 141.28L442.59 144.16L439.39 144.16Z" fill="#0c0c5c" stroke="#1a1a1a" stroke-width="0.6"/><path d="M444.53 141.7L446.13 144.58L442.93 144.58Z" fill="#0c0c5c" stroke="#1a1a1a" stroke-width="0.6"/><path d="M448.08 140.43L449.68 143.31L446.48 143.31Z" fill="#0c0c5c" stroke="#1a1a1a" stroke-width="0.6"/><path d="M451.62 137.48L453.22 140.36L450.02 140.36Z" fill="#0c0c5c" stroke="#1a1a1a" stroke-width="0.6"/><path d="M455.16 137.48L456.76 140.36L453.56 140.36Z" fill="#0c0c5c" stroke="#1a1a1a" stroke-width="0.6"/><path d="M458.71 138.32L460.31 141.2L457.11 141.2Z" fill="#0c0c5c" stroke="#1a1a1a" stroke-width="0.6"/><path d="M462.25 137.48L463.85 140.36L460.65 140.36Z" fill="#0c0c5c" stroke="#1a1a1a" stroke-width="0.6"/><path d="M465.79 130.73L467.39 133.61L464.19 133.61Z" fill="#0c0c5c" stroke="#1a1a1a" stroke-width="0.6"/><path d="M469.34 129.46L470.94 132.34L467.74 132.34Z" fill="#0c0c5c" stroke="#1a1a1a" stroke-width="0.6"/><path d="M472.88 131.99L474.48 134.87L471.28 134.87Z" fill="#0c0c5c" stroke="#1a1a1a" stroke-width="0.6"/><path d="M476.42 130.31L478.02 133.19L474.82 133.19Z" fill="#0c0c5c" stroke="#1a1a1a" stroke-width="0.6"/><path d="M479.97 126.09L481.57 128.97L478.37 128.97Z" fill="#0c0c5c" stroke="#1a1a1a" stroke-width="0.6"/><path d="M483.51 132.84L485.11 135.72L481.91 135.72Z" fill="#0c0c5c" stroke="#1a1a1a" stroke-width="0.6"/><path d="M487.05 126.09L488.65 128.97L485.45 128.97Z" fill="#0c0c5c" stroke="#1a1a1a" stroke-width="0.6"/><path d="M490.6 125.24L492.2 128.12L489 128.12Z" fill="#0c0c5c" stroke="#1a1a1a" stroke-width="0.6"/><path d="M494.14 126.93L495.74 129.81L492.54 129.81Z" fill="#0c0c5c" stroke="#1a1a1a" stroke-width="0.6"/><path d="M497.68 119.76L499.28 122.64L496.08 122.64Z" fill="#0c0c5c" stroke="#1a1a1a" stroke-width="0.6"/><path d="M501.23 120.18L502.83 123.06L499.63 123.06Z" fill="#0c0c5c" stroke="#1a1a1a" stroke-width="0.6"/><path d="M504.77 122.29L506.37 125.17L503.17 125.17Z" fill="#0c0c5c" stroke="#1a1a1a" stroke-width="0.6"/><path d="M508.31 120.18L509.91 123.06L506.71 123.06Z" fill="#0c0c5c" stroke="#1a1a1a" stroke-width="0.6"/><path d="M511.86 118.49L513.46 121.37L510.26 121.37Z" fill="#0c0c5c" stroke="#1a1a1a" stroke-width="0.6"/><path d="M515.4 119.76L517 122.64L513.8 122.64Z" fill="#0c0c5c" stroke="#1a1a1a" stroke-width="0.6"/>
<polyline points="302.8,248.8 306.34,247.53 309.89,246.69 313.43,246.27 316.97,245.42 320.52,243.31 324.06,242.89 327.6,239.52 331.15,237.41 334.69,232.34 338.23,227.28 341.78,227.7 345.32,223.06 348.86,217.57 352.41,217.57 355.95,213.77 359.49,209.13 363.04,206.6 366.58,199 370.12,199 373.67,197.74 377.21,194.78 380.75,188.45 384.3,182.12 387.84,182.12 391.38,178.33 394.93,177.06 398.47,172.42 402.01,177.06 405.56,166.09 409.1,169.89 412.64,168.62 416.19,163.13 419.73,163.56 423.27,160.18 426.82,154.27 430.36,158.07 433.9,158.91 437.45,154.27 440.99,152.58 444.53,145.41 448.08,144.57 451.62,139.08 455.16,139.08 458.71,139.92 462.25,136.97 465.79,131.91 469.34,131.91 472.88,136.97 476.42,126.42 479.97,120.51 483.51,131.48 487.05,126 490.6,117.56 494.14,117.56 497.68,118.4 501.23,117.56 504.77,118.4 508.31,117.56 511.86,116.71 515.4,114.18" fill="none" stroke="#1e1e1e" stroke-width="0.8"/><circle cx="302.8" cy="248.8" r="1.55" fill="#fff" stroke="#ee4030" stroke-width="1.05"/><circle cx="306.34" cy="247.53" r="1.55" fill="#fff" stroke="#ee4030" stroke-width="1.05"/><circle cx="309.89" cy="246.69" r="1.55" fill="#fff" stroke="#ee4030" stroke-width="1.05"/><circle cx="313.43" cy="246.27" r="1.55" fill="#fff" stroke="#ee4030" stroke-width="1.05"/><circle cx="316.97" cy="245.42" r="1.55" fill="#fff" stroke="#ee4030" stroke-width="1.05"/><circle cx="320.52" cy="243.31" r="1.55" fill="#fff" stroke="#ee4030" stroke-width="1.05"/><circle cx="324.06" cy="242.89" r="1.55" fill="#fff" stroke="#ee4030" stroke-width="1.05"/><circle cx="327.6" cy="239.52" r="1.55" fill="#fff" stroke="#ee4030" stroke-width="1.05"/><circle cx="331.15" cy="237.41" r="1.55" fill="#fff" stroke="#ee4030" stroke-width="1.05"/><circle cx="334.69" cy="232.34" r="1.55" fill="#fff" stroke="#ee4030" stroke-width="1.05"/><circle cx="338.23" cy="227.28" r="1.55" fill="#fff" stroke="#ee4030" stroke-width="1.05"/><circle cx="341.78" cy="227.7" r="1.55" fill="#fff" stroke="#ee4030" stroke-width="1.05"/><circle cx="345.32" cy="223.06" r="1.55" fill="#fff" stroke="#ee4030" stroke-width="1.05"/><circle cx="348.86" cy="217.57" r="1.55" fill="#fff" stroke="#ee4030" stroke-width="1.05"/><circle cx="352.41" cy="217.57" r="1.55" fill="#fff" stroke="#ee4030" stroke-width="1.05"/><circle cx="355.95" cy="213.77" r="1.55" fill="#fff" stroke="#ee4030" stroke-width="1.05"/><circle cx="359.49" cy="209.13" r="1.55" fill="#fff" stroke="#ee4030" stroke-width="1.05"/><circle cx="363.04" cy="206.6" r="1.55" fill="#fff" stroke="#ee4030" stroke-width="1.05"/><circle cx="366.58" cy="199" r="1.55" fill="#fff" stroke="#ee4030" stroke-width="1.05"/><circle cx="370.12" cy="199" r="1.55" fill="#fff" stroke="#ee4030" stroke-width="1.05"/><circle cx="373.67" cy="197.74" r="1.55" fill="#fff" stroke="#ee4030" stroke-width="1.05"/><circle cx="377.21" cy="194.78" r="1.55" fill="#fff" stroke="#ee4030" stroke-width="1.05"/><circle cx="380.75" cy="188.45" r="1.55" fill="#fff" stroke="#ee4030" stroke-width="1.05"/><circle cx="384.3" cy="182.12" r="1.55" fill="#fff" stroke="#ee4030" stroke-width="1.05"/><circle cx="387.84" cy="182.12" r="1.55" fill="#fff" stroke="#ee4030" stroke-width="1.05"/><circle cx="391.38" cy="178.33" r="1.55" fill="#fff" stroke="#ee4030" stroke-width="1.05"/><circle cx="394.93" cy="177.06" r="1.55" fill="#fff" stroke="#ee4030" stroke-width="1.05"/><circle cx="398.47" cy="172.42" r="1.55" fill="#fff" stroke="#ee4030" stroke-width="1.05"/><circle cx="402.01" cy="177.06" r="1.55" fill="#fff" stroke="#ee4030" stroke-width="1.05"/><circle cx="405.56" cy="166.09" r="1.55" fill="#fff" stroke="#ee4030" stroke-width="1.05"/><circle cx="409.1" cy="169.89" r="1.55" fill="#fff" stroke="#ee4030" stroke-width="1.05"/><circle cx="412.64" cy="168.62" r="1.55" fill="#fff" stroke="#ee4030" stroke-width="1.05"/><circle cx="416.19" cy="163.13" r="1.55" fill="#fff" stroke="#ee4030" stroke-width="1.05"/><circle cx="419.73" cy="163.56" r="1.55" fill="#fff" stroke="#ee4030" stroke-width="1.05"/><circle cx="423.27" cy="160.18" r="1.55" fill="#fff" stroke="#ee4030" stroke-width="1.05"/><circle cx="426.82" cy="154.27" r="1.55" fill="#fff" stroke="#ee4030" stroke-width="1.05"/><circle cx="430.36" cy="158.07" r="1.55" fill="#fff" stroke="#ee4030" stroke-width="1.05"/><circle cx="433.9" cy="158.91" r="1.55" fill="#fff" stroke="#ee4030" stroke-width="1.05"/><circle cx="437.45" cy="154.27" r="1.55" fill="#fff" stroke="#ee4030" stroke-width="1.05"/><circle cx="440.99" cy="152.58" r="1.55" fill="#fff" stroke="#ee4030" stroke-width="1.05"/><circle cx="444.53" cy="145.41" r="1.55" fill="#fff" stroke="#ee4030" stroke-width="1.05"/><circle cx="448.08" cy="144.57" r="1.55" fill="#fff" stroke="#ee4030" stroke-width="1.05"/><circle cx="451.62" cy="139.08" r="1.55" fill="#fff" stroke="#ee4030" stroke-width="1.05"/><circle cx="455.16" cy="139.08" r="1.55" fill="#fff" stroke="#ee4030" stroke-width="1.05"/><circle cx="458.71" cy="139.92" r="1.55" fill="#fff" stroke="#ee4030" stroke-width="1.05"/><circle cx="462.25" cy="136.97" r="1.55" fill="#fff" stroke="#ee4030" stroke-width="1.05"/><circle cx="465.79" cy="131.91" r="1.55" fill="#fff" stroke="#ee4030" stroke-width="1.05"/><circle cx="469.34" cy="131.91" r="1.55" fill="#fff" stroke="#ee4030" stroke-width="1.05"/><circle cx="472.88" cy="136.97" r="1.55" fill="#fff" stroke="#ee4030" stroke-width="1.05"/><circle cx="476.42" cy="126.42" r="1.55" fill="#fff" stroke="#ee4030" stroke-width="1.05"/><circle cx="479.97" cy="120.51" r="1.55" fill="#fff" stroke="#ee4030" stroke-width="1.05"/><circle cx="483.51" cy="131.48" r="1.55" fill="#fff" stroke="#ee4030" stroke-width="1.05"/><circle cx="487.05" cy="126" r="1.55" fill="#fff" stroke="#ee4030" stroke-width="1.05"/><circle cx="490.6" cy="117.56" r="1.55" fill="#fff" stroke="#ee4030" stroke-width="1.05"/><circle cx="494.14" cy="117.56" r="1.55" fill="#fff" stroke="#ee4030" stroke-width="1.05"/><circle cx="497.68" cy="118.4" r="1.55" fill="#fff" stroke="#ee4030" stroke-width="1.05"/><circle cx="501.23" cy="117.56" r="1.55" fill="#fff" stroke="#ee4030" stroke-width="1.05"/><circle cx="504.77" cy="118.4" r="1.55" fill="#fff" stroke="#ee4030" stroke-width="1.05"/><circle cx="508.31" cy="117.56" r="1.55" fill="#fff" stroke="#ee4030" stroke-width="1.05"/><circle cx="511.86" cy="116.71" r="1.55" fill="#fff" stroke="#ee4030" stroke-width="1.05"/><circle cx="515.4" cy="114.18" r="1.55" fill="#fff" stroke="#ee4030" stroke-width="1.05"/>
<polyline points="302.8,248.8 306.34,244.58 309.89,242.89 313.43,239.94 316.97,239.94 320.52,235.3 324.06,234.87 327.6,234.45 331.15,231.5 334.69,229.81 338.23,227.7 341.78,224.75 345.32,219.26 348.86,220.95 352.41,218.84 355.95,213.77 359.49,211.66 363.04,210.82 366.58,204.49 370.12,203.65 373.67,204.91 377.21,204.49 380.75,199.85 384.3,196.05 387.84,196.47 391.38,193.1 394.93,193.52 398.47,189.3 402.01,190.99 405.56,185.5 409.1,186.77 412.64,185.92 416.19,180.44 419.73,182.12 423.27,181.28 426.82,177.9 430.36,176.64 433.9,176.22 437.45,177.48 440.99,172.84 444.53,172 448.08,169.89 451.62,161.45 455.16,164.4 458.71,163.13 462.25,160.18 465.79,158.49 469.34,156.38 472.88,156.38 476.42,158.49 479.97,150.05 483.51,152.58 487.05,150.47 490.6,149.21 494.14,143.72 497.68,145.83 501.23,140.35 504.77,141.61 508.31,141.61 511.86,136.97 515.4,139.92" fill="none" stroke="#1e1e1e" stroke-width="0.8"/><path d="M302.8 247.2L304.4 250.08L301.2 250.08Z" fill="#c0281c" stroke="#1a1a1a" stroke-width="0.6"/><path d="M306.34 242.98L307.94 245.86L304.74 245.86Z" fill="#c0281c" stroke="#1a1a1a" stroke-width="0.6"/><path d="M309.89 241.29L311.49 244.17L308.29 244.17Z" fill="#c0281c" stroke="#1a1a1a" stroke-width="0.6"/><path d="M313.43 238.34L315.03 241.22L311.83 241.22Z" fill="#c0281c" stroke="#1a1a1a" stroke-width="0.6"/><path d="M316.97 238.34L318.57 241.22L315.37 241.22Z" fill="#c0281c" stroke="#1a1a1a" stroke-width="0.6"/><path d="M320.52 233.7L322.12 236.58L318.92 236.58Z" fill="#c0281c" stroke="#1a1a1a" stroke-width="0.6"/><path d="M324.06 233.27L325.66 236.15L322.46 236.15Z" fill="#c0281c" stroke="#1a1a1a" stroke-width="0.6"/><path d="M327.6 232.85L329.2 235.73L326 235.73Z" fill="#c0281c" stroke="#1a1a1a" stroke-width="0.6"/><path d="M331.15 229.9L332.75 232.78L329.55 232.78Z" fill="#c0281c" stroke="#1a1a1a" stroke-width="0.6"/><path d="M334.69 228.21L336.29 231.09L333.09 231.09Z" fill="#c0281c" stroke="#1a1a1a" stroke-width="0.6"/><path d="M338.23 226.1L339.83 228.98L336.63 228.98Z" fill="#c0281c" stroke="#1a1a1a" stroke-width="0.6"/><path d="M341.78 223.15L343.38 226.03L340.18 226.03Z" fill="#c0281c" stroke="#1a1a1a" stroke-width="0.6"/><path d="M345.32 217.66L346.92 220.54L343.72 220.54Z" fill="#c0281c" stroke="#1a1a1a" stroke-width="0.6"/><path d="M348.86 219.35L350.46 222.23L347.26 222.23Z" fill="#c0281c" stroke="#1a1a1a" stroke-width="0.6"/><path d="M352.41 217.24L354.01 220.12L350.81 220.12Z" fill="#c0281c" stroke="#1a1a1a" stroke-width="0.6"/><path d="M355.95 212.17L357.55 215.05L354.35 215.05Z" fill="#c0281c" stroke="#1a1a1a" stroke-width="0.6"/><path d="M359.49 210.06L361.09 212.94L357.89 212.94Z" fill="#c0281c" stroke="#1a1a1a" stroke-width="0.6"/><path d="M363.04 209.22L364.64 212.1L361.44 212.1Z" fill="#c0281c" stroke="#1a1a1a" stroke-width="0.6"/><path d="M366.58 202.89L368.18 205.77L364.98 205.77Z" fill="#c0281c" stroke="#1a1a1a" stroke-width="0.6"/><path d="M370.12 202.05L371.72 204.93L368.52 204.93Z" fill="#c0281c" stroke="#1a1a1a" stroke-width="0.6"/><path d="M373.67 203.31L375.27 206.19L372.07 206.19Z" fill="#c0281c" stroke="#1a1a1a" stroke-width="0.6"/><path d="M377.21 202.89L378.81 205.77L375.61 205.77Z" fill="#c0281c" stroke="#1a1a1a" stroke-width="0.6"/><path d="M380.75 198.25L382.35 201.13L379.15 201.13Z" fill="#c0281c" stroke="#1a1a1a" stroke-width="0.6"/><path d="M384.3 194.45L385.9 197.33L382.7 197.33Z" fill="#c0281c" stroke="#1a1a1a" stroke-width="0.6"/><path d="M387.84 194.87L389.44 197.75L386.24 197.75Z" fill="#c0281c" stroke="#1a1a1a" stroke-width="0.6"/><path d="M391.38 191.5L392.98 194.38L389.78 194.38Z" fill="#c0281c" stroke="#1a1a1a" stroke-width="0.6"/><path d="M394.93 191.92L396.53 194.8L393.33 194.8Z" fill="#c0281c" stroke="#1a1a1a" stroke-width="0.6"/><path d="M398.47 187.7L400.07 190.58L396.87 190.58Z" fill="#c0281c" stroke="#1a1a1a" stroke-width="0.6"/><path d="M402.01 189.39L403.61 192.27L400.41 192.27Z" fill="#c0281c" stroke="#1a1a1a" stroke-width="0.6"/><path d="M405.56 183.9L407.16 186.78L403.96 186.78Z" fill="#c0281c" stroke="#1a1a1a" stroke-width="0.6"/><path d="M409.1 185.17L410.7 188.05L407.5 188.05Z" fill="#c0281c" stroke="#1a1a1a" stroke-width="0.6"/><path d="M412.64 184.32L414.24 187.2L411.04 187.2Z" fill="#c0281c" stroke="#1a1a1a" stroke-width="0.6"/><path d="M416.19 178.84L417.79 181.72L414.59 181.72Z" fill="#c0281c" stroke="#1a1a1a" stroke-width="0.6"/><path d="M419.73 180.52L421.33 183.4L418.13 183.4Z" fill="#c0281c" stroke="#1a1a1a" stroke-width="0.6"/><path d="M423.27 179.68L424.87 182.56L421.67 182.56Z" fill="#c0281c" stroke="#1a1a1a" stroke-width="0.6"/><path d="M426.82 176.3L428.42 179.18L425.22 179.18Z" fill="#c0281c" stroke="#1a1a1a" stroke-width="0.6"/><path d="M430.36 175.04L431.96 177.92L428.76 177.92Z" fill="#c0281c" stroke="#1a1a1a" stroke-width="0.6"/><path d="M433.9 174.62L435.5 177.5L432.3 177.5Z" fill="#c0281c" stroke="#1a1a1a" stroke-width="0.6"/><path d="M437.45 175.88L439.05 178.76L435.85 178.76Z" fill="#c0281c" stroke="#1a1a1a" stroke-width="0.6"/><path d="M440.99 171.24L442.59 174.12L439.39 174.12Z" fill="#c0281c" stroke="#1a1a1a" stroke-width="0.6"/><path d="M444.53 170.4L446.13 173.28L442.93 173.28Z" fill="#c0281c" stroke="#1a1a1a" stroke-width="0.6"/><path d="M448.08 168.29L449.68 171.17L446.48 171.17Z" fill="#c0281c" stroke="#1a1a1a" stroke-width="0.6"/><path d="M451.62 159.85L453.22 162.73L450.02 162.73Z" fill="#c0281c" stroke="#1a1a1a" stroke-width="0.6"/><path d="M455.16 162.8L456.76 165.68L453.56 165.68Z" fill="#c0281c" stroke="#1a1a1a" stroke-width="0.6"/><path d="M458.71 161.53L460.31 164.41L457.11 164.41Z" fill="#c0281c" stroke="#1a1a1a" stroke-width="0.6"/><path d="M462.25 158.58L463.85 161.46L460.65 161.46Z" fill="#c0281c" stroke="#1a1a1a" stroke-width="0.6"/><path d="M465.79 156.89L467.39 159.77L464.19 159.77Z" fill="#c0281c" stroke="#1a1a1a" stroke-width="0.6"/><path d="M469.34 154.78L470.94 157.66L467.74 157.66Z" fill="#c0281c" stroke="#1a1a1a" stroke-width="0.6"/><path d="M472.88 154.78L474.48 157.66L471.28 157.66Z" fill="#c0281c" stroke="#1a1a1a" stroke-width="0.6"/><path d="M476.42 156.89L478.02 159.77L474.82 159.77Z" fill="#c0281c" stroke="#1a1a1a" stroke-width="0.6"/><path d="M479.97 148.45L481.57 151.33L478.37 151.33Z" fill="#c0281c" stroke="#1a1a1a" stroke-width="0.6"/><path d="M483.51 150.98L485.11 153.86L481.91 153.86Z" fill="#c0281c" stroke="#1a1a1a" stroke-width="0.6"/><path d="M487.05 148.87L488.65 151.75L485.45 151.75Z" fill="#c0281c" stroke="#1a1a1a" stroke-width="0.6"/><path d="M490.6 147.61L492.2 150.49L489 150.49Z" fill="#c0281c" stroke="#1a1a1a" stroke-width="0.6"/><path d="M494.14 142.12L495.74 145L492.54 145Z" fill="#c0281c" stroke="#1a1a1a" stroke-width="0.6"/><path d="M497.68 144.23L499.28 147.11L496.08 147.11Z" fill="#c0281c" stroke="#1a1a1a" stroke-width="0.6"/><path d="M501.23 138.75L502.83 141.63L499.63 141.63Z" fill="#c0281c" stroke="#1a1a1a" stroke-width="0.6"/><path d="M504.77 140.01L506.37 142.89L503.17 142.89Z" fill="#c0281c" stroke="#1a1a1a" stroke-width="0.6"/><path d="M508.31 140.01L509.91 142.89L506.71 142.89Z" fill="#c0281c" stroke="#1a1a1a" stroke-width="0.6"/><path d="M511.86 135.37L513.46 138.25L510.26 138.25Z" fill="#c0281c" stroke="#1a1a1a" stroke-width="0.6"/><path d="M515.4 138.32L517 141.2L513.8 141.2Z" fill="#c0281c" stroke="#1a1a1a" stroke-width="0.6"/>
<line x1="313.5" y1="99.5" x2="330.3" y2="99.5" stroke="#333" stroke-width="1.1"/>
<path d="M322 97.9L323.6 100.78L320.4 100.78Z" fill="#c0281c" stroke="#1a1a1a" stroke-width="0.6"/>
<text x="339.7" y="102.1" font-size="8.1">F12</text>
<line x1="313.5" y1="110.9" x2="330.3" y2="110.9" stroke="#333" stroke-width="1.1"/>
<circle cx="322.2" cy="110.9" r="1.55" fill="#fff" stroke="#ee4030" stroke-width="1.05"/>
<text x="339.7" y="113.5" font-size="8.1">F12:ME054 (1:10)</text>
<line x1="313.5" y1="127.8" x2="330.3" y2="127.8" stroke="#333" stroke-width="1.1"/>
<path d="M322 126.2L323.6 129.08L320.4 129.08Z" fill="#0c0c5c" stroke="#1a1a1a" stroke-width="0.6"/>
<text x="339.7" y="130.4" font-size="8.1">F24</text>
<line x1="313.5" y1="137.9" x2="330.3" y2="137.9" stroke="#333" stroke-width="1.1"/>
<circle cx="322.2" cy="137.9" r="1.55" fill="#fff" stroke="#3a4cf4" stroke-width="1.05"/>
<text x="339.7" y="140.5" font-size="8.1">F24:ME054 (1:10)</text>
<text transform="translate(74.5,304.8) scale(1,1.03)" font-size="14.8">D</text>
<rect x="267.2" y="294.07" width="3.4" height="143.73" fill="url(#cb)"/>
<rect x="411.4" y="294.07" width="3.4" height="143.73" fill="url(#cb)"/>
<rect x="267.2" y="440.67" width="3.4" height="143.73" fill="url(#cb)"/>
<rect x="411.4" y="440.67" width="3.4" height="143.73" fill="url(#cb)"/>
<path d="M127.3 293.6H415.6V586.4H127.3Z" fill="none" stroke="#222" stroke-width="1"/>
<line x1="271.5" y1="293.6" x2="271.5" y2="586.4" stroke="#222" stroke-width="1"/>
<line x1="127.3" y1="440.2" x2="415.6" y2="440.2" stroke="#222" stroke-width="1"/>
<line x1="121.8" y1="437.8" x2="127.3" y2="437.8" stroke="#222" stroke-width="0.9"/>
<text transform="translate(119.3,440.4) scale(1,1.13)" font-size="7.7" text-anchor="end">0</text>
<line x1="124.7" y1="432.06" x2="127.3" y2="432.06" stroke="#222" stroke-width="0.9"/>
<line x1="124.7" y1="426.32" x2="127.3" y2="426.32" stroke="#222" stroke-width="0.9"/>
<line x1="124.7" y1="420.59" x2="127.3" y2="420.59" stroke="#222" stroke-width="0.9"/>
<line x1="121.8" y1="414.85" x2="127.3" y2="414.85" stroke="#222" stroke-width="0.9"/>
<text transform="translate(119.3,417.45) scale(1,1.13)" font-size="7.7" text-anchor="end">2.0e+07</text>
<line x1="124.7" y1="409.11" x2="127.3" y2="409.11" stroke="#222" stroke-width="0.9"/>
<line x1="124.7" y1="403.38" x2="127.3" y2="403.38" stroke="#222" stroke-width="0.9"/>
<line x1="124.7" y1="397.64" x2="127.3" y2="397.64" stroke="#222" stroke-width="0.9"/>
<line x1="121.8" y1="391.9" x2="127.3" y2="391.9" stroke="#222" stroke-width="0.9"/>
<text transform="translate(119.3,394.5) scale(1,1.13)" font-size="7.7" text-anchor="end">4.0e+07</text>
<line x1="124.7" y1="386.16" x2="127.3" y2="386.16" stroke="#222" stroke-width="0.9"/>
<line x1="124.7" y1="380.43" x2="127.3" y2="380.43" stroke="#222" stroke-width="0.9"/>
<line x1="124.7" y1="374.69" x2="127.3" y2="374.69" stroke="#222" stroke-width="0.9"/>
<line x1="121.8" y1="368.95" x2="127.3" y2="368.95" stroke="#222" stroke-width="0.9"/>
<text transform="translate(119.3,371.55) scale(1,1.13)" font-size="7.7" text-anchor="end">6.0e+07</text>
<line x1="124.7" y1="363.21" x2="127.3" y2="363.21" stroke="#222" stroke-width="0.9"/>
<line x1="124.7" y1="357.48" x2="127.3" y2="357.48" stroke="#222" stroke-width="0.9"/>
<line x1="124.7" y1="351.74" x2="127.3" y2="351.74" stroke="#222" stroke-width="0.9"/>
<line x1="121.8" y1="346" x2="127.3" y2="346" stroke="#222" stroke-width="0.9"/>
<text transform="translate(119.3,348.6) scale(1,1.13)" font-size="7.7" text-anchor="end">8.0e+07</text>
<line x1="124.7" y1="340.26" x2="127.3" y2="340.26" stroke="#222" stroke-width="0.9"/>
<line x1="124.7" y1="334.52" x2="127.3" y2="334.52" stroke="#222" stroke-width="0.9"/>
<line x1="124.7" y1="328.79" x2="127.3" y2="328.79" stroke="#222" stroke-width="0.9"/>
<line x1="121.8" y1="323.05" x2="127.3" y2="323.05" stroke="#222" stroke-width="0.9"/>
<text transform="translate(119.3,325.65) scale(1,1.13)" font-size="7.7" text-anchor="end">1.0e+08</text>
<line x1="124.7" y1="317.31" x2="127.3" y2="317.31" stroke="#222" stroke-width="0.9"/>
<line x1="124.7" y1="311.57" x2="127.3" y2="311.57" stroke="#222" stroke-width="0.9"/>
<line x1="124.7" y1="305.84" x2="127.3" y2="305.84" stroke="#222" stroke-width="0.9"/>
<line x1="121.8" y1="300.1" x2="127.3" y2="300.1" stroke="#222" stroke-width="0.9"/>
<text transform="translate(119.3,302.7) scale(1,1.13)" font-size="7.7" text-anchor="end">1.2e+08</text>
<line x1="124.7" y1="294.36" x2="127.3" y2="294.36" stroke="#222" stroke-width="0.9"/>
<line x1="121.8" y1="584.3" x2="127.3" y2="584.3" stroke="#222" stroke-width="0.9"/>
<text transform="translate(119.3,586.9) scale(1,1.13)" font-size="7.7" text-anchor="end">0</text>
<line x1="124.7" y1="578.56" x2="127.3" y2="578.56" stroke="#222" stroke-width="0.9"/>
<line x1="124.7" y1="572.82" x2="127.3" y2="572.82" stroke="#222" stroke-width="0.9"/>
<line x1="124.7" y1="567.09" x2="127.3" y2="567.09" stroke="#222" stroke-width="0.9"/>
<line x1="121.8" y1="561.35" x2="127.3" y2="561.35" stroke="#222" stroke-width="0.9"/>
<text transform="translate(119.3,563.95) scale(1,1.13)" font-size="7.7" text-anchor="end">2.0e+07</text>
<line x1="124.7" y1="555.61" x2="127.3" y2="555.61" stroke="#222" stroke-width="0.9"/>
<line x1="124.7" y1="549.88" x2="127.3" y2="549.88" stroke="#222" stroke-width="0.9"/>
<line x1="124.7" y1="544.14" x2="127.3" y2="544.14" stroke="#222" stroke-width="0.9"/>
<line x1="121.8" y1="538.4" x2="127.3" y2="538.4" stroke="#222" stroke-width="0.9"/>
<text transform="translate(119.3,541) scale(1,1.13)" font-size="7.7" text-anchor="end">4.0e+07</text>
<line x1="124.7" y1="532.66" x2="127.3" y2="532.66" stroke="#222" stroke-width="0.9"/>
<line x1="124.7" y1="526.92" x2="127.3" y2="526.92" stroke="#222" stroke-width="0.9"/>
<line x1="124.7" y1="521.19" x2="127.3" y2="521.19" stroke="#222" stroke-width="0.9"/>
<line x1="121.8" y1="515.45" x2="127.3" y2="515.45" stroke="#222" stroke-width="0.9"/>
<text transform="translate(119.3,518.05) scale(1,1.13)" font-size="7.7" text-anchor="end">6.0e+07</text>
<line x1="124.7" y1="509.71" x2="127.3" y2="509.71" stroke="#222" stroke-width="0.9"/>
<line x1="124.7" y1="503.97" x2="127.3" y2="503.97" stroke="#222" stroke-width="0.9"/>
<line x1="124.7" y1="498.24" x2="127.3" y2="498.24" stroke="#222" stroke-width="0.9"/>
<line x1="121.8" y1="492.5" x2="127.3" y2="492.5" stroke="#222" stroke-width="0.9"/>
<text transform="translate(119.3,495.1) scale(1,1.13)" font-size="7.7" text-anchor="end">8.0e+07</text>
<line x1="124.7" y1="486.76" x2="127.3" y2="486.76" stroke="#222" stroke-width="0.9"/>
<line x1="124.7" y1="481.02" x2="127.3" y2="481.02" stroke="#222" stroke-width="0.9"/>
<line x1="124.7" y1="475.29" x2="127.3" y2="475.29" stroke="#222" stroke-width="0.9"/>
<line x1="121.8" y1="469.55" x2="127.3" y2="469.55" stroke="#222" stroke-width="0.9"/>
<text transform="translate(119.3,472.15) scale(1,1.13)" font-size="7.7" text-anchor="end">1.0e+08</text>
<line x1="124.7" y1="463.81" x2="127.3" y2="463.81" stroke="#222" stroke-width="0.9"/>
<line x1="124.7" y1="458.07" x2="127.3" y2="458.07" stroke="#222" stroke-width="0.9"/>
<line x1="124.7" y1="452.34" x2="127.3" y2="452.34" stroke="#222" stroke-width="0.9"/>
<line x1="124.7" y1="446.6" x2="127.3" y2="446.6" stroke="#222" stroke-width="0.9"/>
<line x1="124.7" y1="440.86" x2="127.3" y2="440.86" stroke="#222" stroke-width="0.9"/>
<line x1="415.6" y1="437.8" x2="421.2" y2="437.8" stroke="#222" stroke-width="0.9"/>
<text transform="translate(423.2,440.4) scale(1,1.13)" font-size="7.7">0</text>
<line x1="415.6" y1="429.27" x2="418.6" y2="429.27" stroke="#222" stroke-width="0.9"/>
<line x1="415.6" y1="420.74" x2="418.6" y2="420.74" stroke="#222" stroke-width="0.9"/>
<line x1="415.6" y1="412.21" x2="418.6" y2="412.21" stroke="#222" stroke-width="0.9"/>
<line x1="415.6" y1="403.68" x2="418.6" y2="403.68" stroke="#222" stroke-width="0.9"/>
<line x1="415.6" y1="395.15" x2="421.2" y2="395.15" stroke="#222" stroke-width="0.9"/>
<text transform="translate(423.2,397.75) scale(1,1.13)" font-size="7.7">5</text>
<line x1="415.6" y1="386.62" x2="418.6" y2="386.62" stroke="#222" stroke-width="0.9"/>
<line x1="415.6" y1="378.09" x2="418.6" y2="378.09" stroke="#222" stroke-width="0.9"/>
<line x1="415.6" y1="369.56" x2="418.6" y2="369.56" stroke="#222" stroke-width="0.9"/>
<line x1="415.6" y1="361.03" x2="418.6" y2="361.03" stroke="#222" stroke-width="0.9"/>
<line x1="415.6" y1="352.5" x2="421.2" y2="352.5" stroke="#222" stroke-width="0.9"/>
<text transform="translate(423.2,355.1) scale(1,1.13)" font-size="7.7">10</text>
<line x1="415.6" y1="343.97" x2="418.6" y2="343.97" stroke="#222" stroke-width="0.9"/>
<line x1="415.6" y1="335.44" x2="418.6" y2="335.44" stroke="#222" stroke-width="0.9"/>
<line x1="415.6" y1="326.91" x2="418.6" y2="326.91" stroke="#222" stroke-width="0.9"/>
<line x1="415.6" y1="318.38" x2="418.6" y2="318.38" stroke="#222" stroke-width="0.9"/>
<line x1="415.6" y1="309.85" x2="421.2" y2="309.85" stroke="#222" stroke-width="0.9"/>
<text transform="translate(423.2,312.45) scale(1,1.13)" font-size="7.7">15</text>
<line x1="415.6" y1="301.32" x2="418.6" y2="301.32" stroke="#222" stroke-width="0.9"/>
<line x1="415.6" y1="584.4" x2="421.2" y2="584.4" stroke="#222" stroke-width="0.9"/>
<text transform="translate(423.2,587) scale(1,1.13)" font-size="7.7">0</text>
<line x1="415.6" y1="575.87" x2="418.6" y2="575.87" stroke="#222" stroke-width="0.9"/>
<line x1="415.6" y1="567.34" x2="418.6" y2="567.34" stroke="#222" stroke-width="0.9"/>
<line x1="415.6" y1="558.81" x2="418.6" y2="558.81" stroke="#222" stroke-width="0.9"/>
<line x1="415.6" y1="550.28" x2="418.6" y2="550.28" stroke="#222" stroke-width="0.9"/>
<line x1="415.6" y1="541.75" x2="421.2" y2="541.75" stroke="#222" stroke-width="0.9"/>
<text transform="translate(423.2,544.35) scale(1,1.13)" font-size="7.7">5</text>
<line x1="415.6" y1="533.22" x2="418.6" y2="533.22" stroke="#222" stroke-width="0.9"/>
<line x1="415.6" y1="524.69" x2="418.6" y2="524.69" stroke="#222" stroke-width="0.9"/>
<line x1="415.6" y1="516.16" x2="418.6" y2="516.16" stroke="#222" stroke-width="0.9"/>
<line x1="415.6" y1="507.63" x2="418.6" y2="507.63" stroke="#222" stroke-width="0.9"/>
<line x1="415.6" y1="499.1" x2="421.2" y2="499.1" stroke="#222" stroke-width="0.9"/>
<text transform="translate(423.2,501.7) scale(1,1.13)" font-size="7.7">10</text>
<line x1="415.6" y1="490.57" x2="418.6" y2="490.57" stroke="#222" stroke-width="0.9"/>
<line x1="415.6" y1="482.04" x2="418.6" y2="482.04" stroke="#222" stroke-width="0.9"/>
<line x1="415.6" y1="473.51" x2="418.6" y2="473.51" stroke="#222" stroke-width="0.9"/>
<line x1="415.6" y1="464.98" x2="418.6" y2="464.98" stroke="#222" stroke-width="0.9"/>
<line x1="415.6" y1="456.45" x2="421.2" y2="456.45" stroke="#222" stroke-width="0.9"/>
<text transform="translate(423.2,459.05) scale(1,1.13)" font-size="7.7">15</text>
<line x1="415.6" y1="447.92" x2="418.6" y2="447.92" stroke="#222" stroke-width="0.9"/>
<line x1="134.33" y1="440.2" x2="134.33" y2="443.3" stroke="#222" stroke-width="0.95"/>
<line x1="140" y1="440.2" x2="140" y2="446.1" stroke="#222" stroke-width="0.95"/>
<line x1="145.67" y1="440.2" x2="145.67" y2="443.3" stroke="#222" stroke-width="0.95"/>
<line x1="151.34" y1="440.2" x2="151.34" y2="443.3" stroke="#222" stroke-width="0.95"/>
<line x1="157.01" y1="440.2" x2="157.01" y2="443.3" stroke="#222" stroke-width="0.95"/>
<line x1="162.68" y1="440.2" x2="162.68" y2="443.3" stroke="#222" stroke-width="0.95"/>
<line x1="168.35" y1="440.2" x2="168.35" y2="446.1" stroke="#222" stroke-width="0.95"/>
<line x1="174.02" y1="440.2" x2="174.02" y2="443.3" stroke="#222" stroke-width="0.95"/>
<line x1="179.69" y1="440.2" x2="179.69" y2="443.3" stroke="#222" stroke-width="0.95"/>
<line x1="185.36" y1="440.2" x2="185.36" y2="443.3" stroke="#222" stroke-width="0.95"/>
<line x1="191.03" y1="440.2" x2="191.03" y2="443.3" stroke="#222" stroke-width="0.95"/>
<line x1="196.7" y1="440.2" x2="196.7" y2="446.1" stroke="#222" stroke-width="0.95"/>
<line x1="202.37" y1="440.2" x2="202.37" y2="443.3" stroke="#222" stroke-width="0.95"/>
<line x1="208.04" y1="440.2" x2="208.04" y2="443.3" stroke="#222" stroke-width="0.95"/>
<line x1="213.71" y1="440.2" x2="213.71" y2="443.3" stroke="#222" stroke-width="0.95"/>
<line x1="219.38" y1="440.2" x2="219.38" y2="443.3" stroke="#222" stroke-width="0.95"/>
<line x1="225.05" y1="440.2" x2="225.05" y2="446.1" stroke="#222" stroke-width="0.95"/>
<line x1="230.72" y1="440.2" x2="230.72" y2="443.3" stroke="#222" stroke-width="0.95"/>
<line x1="236.39" y1="440.2" x2="236.39" y2="443.3" stroke="#222" stroke-width="0.95"/>
<line x1="242.06" y1="440.2" x2="242.06" y2="443.3" stroke="#222" stroke-width="0.95"/>
<line x1="247.73" y1="440.2" x2="247.73" y2="443.3" stroke="#222" stroke-width="0.95"/>
<line x1="253.4" y1="440.2" x2="253.4" y2="446.1" stroke="#222" stroke-width="0.95"/>
<line x1="259.07" y1="440.2" x2="259.07" y2="443.3" stroke="#222" stroke-width="0.95"/>
<line x1="278.53" y1="440.2" x2="278.53" y2="443.3" stroke="#222" stroke-width="0.95"/>
<line x1="284.2" y1="440.2" x2="284.2" y2="446.1" stroke="#222" stroke-width="0.95"/>
<line x1="289.87" y1="440.2" x2="289.87" y2="443.3" stroke="#222" stroke-width="0.95"/>
<line x1="295.54" y1="440.2" x2="295.54" y2="443.3" stroke="#222" stroke-width="0.95"/>
<line x1="301.21" y1="440.2" x2="301.21" y2="443.3" stroke="#222" stroke-width="0.95"/>
<line x1="306.88" y1="440.2" x2="306.88" y2="443.3" stroke="#222" stroke-width="0.95"/>
<line x1="312.55" y1="440.2" x2="312.55" y2="446.1" stroke="#222" stroke-width="0.95"/>
<line x1="318.22" y1="440.2" x2="318.22" y2="443.3" stroke="#222" stroke-width="0.95"/>
<line x1="323.89" y1="440.2" x2="323.89" y2="443.3" stroke="#222" stroke-width="0.95"/>
<line x1="329.56" y1="440.2" x2="329.56" y2="443.3" stroke="#222" stroke-width="0.95"/>
<line x1="335.23" y1="440.2" x2="335.23" y2="443.3" stroke="#222" stroke-width="0.95"/>
<line x1="340.9" y1="440.2" x2="340.9" y2="446.1" stroke="#222" stroke-width="0.95"/>
<line x1="346.57" y1="440.2" x2="346.57" y2="443.3" stroke="#222" stroke-width="0.95"/>
<line x1="352.24" y1="440.2" x2="352.24" y2="443.3" stroke="#222" stroke-width="0.95"/>
<line x1="357.91" y1="440.2" x2="357.91" y2="443.3" stroke="#222" stroke-width="0.95"/>
<line x1="363.58" y1="440.2" x2="363.58" y2="443.3" stroke="#222" stroke-width="0.95"/>
<line x1="369.25" y1="440.2" x2="369.25" y2="446.1" stroke="#222" stroke-width="0.95"/>
<line x1="374.92" y1="440.2" x2="374.92" y2="443.3" stroke="#222" stroke-width="0.95"/>
<line x1="380.59" y1="440.2" x2="380.59" y2="443.3" stroke="#222" stroke-width="0.95"/>
<line x1="386.26" y1="440.2" x2="386.26" y2="443.3" stroke="#222" stroke-width="0.95"/>
<line x1="391.93" y1="440.2" x2="391.93" y2="443.3" stroke="#222" stroke-width="0.95"/>
<line x1="397.6" y1="440.2" x2="397.6" y2="446.1" stroke="#222" stroke-width="0.95"/>
<line x1="403.27" y1="440.2" x2="403.27" y2="443.3" stroke="#222" stroke-width="0.95"/>
<line x1="134.33" y1="586.4" x2="134.33" y2="589.5" stroke="#222" stroke-width="0.95"/>
<line x1="140" y1="586.4" x2="140" y2="592.3" stroke="#222" stroke-width="0.95"/>
<text transform="translate(140,600.6) scale(1,1.13)" font-size="7.7" text-anchor="middle">0</text>
<line x1="145.67" y1="586.4" x2="145.67" y2="589.5" stroke="#222" stroke-width="0.95"/>
<line x1="151.34" y1="586.4" x2="151.34" y2="589.5" stroke="#222" stroke-width="0.95"/>
<line x1="157.01" y1="586.4" x2="157.01" y2="589.5" stroke="#222" stroke-width="0.95"/>
<line x1="162.68" y1="586.4" x2="162.68" y2="589.5" stroke="#222" stroke-width="0.95"/>
<line x1="168.35" y1="586.4" x2="168.35" y2="592.3" stroke="#222" stroke-width="0.95"/>
<text transform="translate(168.35,600.6) scale(1,1.13)" font-size="7.7" text-anchor="middle">50</text>
<line x1="174.02" y1="586.4" x2="174.02" y2="589.5" stroke="#222" stroke-width="0.95"/>
<line x1="179.69" y1="586.4" x2="179.69" y2="589.5" stroke="#222" stroke-width="0.95"/>
<line x1="185.36" y1="586.4" x2="185.36" y2="589.5" stroke="#222" stroke-width="0.95"/>
<line x1="191.03" y1="586.4" x2="191.03" y2="589.5" stroke="#222" stroke-width="0.95"/>
<line x1="196.7" y1="586.4" x2="196.7" y2="592.3" stroke="#222" stroke-width="0.95"/>
<text transform="translate(196.7,600.6) scale(1,1.13)" font-size="7.7" text-anchor="middle">100</text>
<line x1="202.37" y1="586.4" x2="202.37" y2="589.5" stroke="#222" stroke-width="0.95"/>
<line x1="208.04" y1="586.4" x2="208.04" y2="589.5" stroke="#222" stroke-width="0.95"/>
<line x1="213.71" y1="586.4" x2="213.71" y2="589.5" stroke="#222" stroke-width="0.95"/>
<line x1="219.38" y1="586.4" x2="219.38" y2="589.5" stroke="#222" stroke-width="0.95"/>
<line x1="225.05" y1="586.4" x2="225.05" y2="592.3" stroke="#222" stroke-width="0.95"/>
<text transform="translate(225.05,600.6) scale(1,1.13)" font-size="7.7" text-anchor="middle">150</text>
<line x1="230.72" y1="586.4" x2="230.72" y2="589.5" stroke="#222" stroke-width="0.95"/>
<line x1="236.39" y1="586.4" x2="236.39" y2="589.5" stroke="#222" stroke-width="0.95"/>
<line x1="242.06" y1="586.4" x2="242.06" y2="589.5" stroke="#222" stroke-width="0.95"/>
<line x1="247.73" y1="586.4" x2="247.73" y2="589.5" stroke="#222" stroke-width="0.95"/>
<line x1="253.4" y1="586.4" x2="253.4" y2="592.3" stroke="#222" stroke-width="0.95"/>
<text transform="translate(253.4,600.6) scale(1,1.13)" font-size="7.7" text-anchor="middle">200</text>
<line x1="259.07" y1="586.4" x2="259.07" y2="589.5" stroke="#222" stroke-width="0.95"/>
<line x1="278.53" y1="586.4" x2="278.53" y2="589.5" stroke="#222" stroke-width="0.95"/>
<line x1="284.2" y1="586.4" x2="284.2" y2="592.3" stroke="#222" stroke-width="0.95"/>
<text transform="translate(284.2,600.6) scale(1,1.13)" font-size="7.7" text-anchor="middle">0</text>
<line x1="289.87" y1="586.4" x2="289.87" y2="589.5" stroke="#222" stroke-width="0.95"/>
<line x1="295.54" y1="586.4" x2="295.54" y2="589.5" stroke="#222" stroke-width="0.95"/>
<line x1="301.21" y1="586.4" x2="301.21" y2="589.5" stroke="#222" stroke-width="0.95"/>
<line x1="306.88" y1="586.4" x2="306.88" y2="589.5" stroke="#222" stroke-width="0.95"/>
<line x1="312.55" y1="586.4" x2="312.55" y2="592.3" stroke="#222" stroke-width="0.95"/>
<text transform="translate(312.55,600.6) scale(1,1.13)" font-size="7.7" text-anchor="middle">50</text>
<line x1="318.22" y1="586.4" x2="318.22" y2="589.5" stroke="#222" stroke-width="0.95"/>
<line x1="323.89" y1="586.4" x2="323.89" y2="589.5" stroke="#222" stroke-width="0.95"/>
<line x1="329.56" y1="586.4" x2="329.56" y2="589.5" stroke="#222" stroke-width="0.95"/>
<line x1="335.23" y1="586.4" x2="335.23" y2="589.5" stroke="#222" stroke-width="0.95"/>
<line x1="340.9" y1="586.4" x2="340.9" y2="592.3" stroke="#222" stroke-width="0.95"/>
<text transform="translate(340.9,600.6) scale(1,1.13)" font-size="7.7" text-anchor="middle">100</text>
<line x1="346.57" y1="586.4" x2="346.57" y2="589.5" stroke="#222" stroke-width="0.95"/>
<line x1="352.24" y1="586.4" x2="352.24" y2="589.5" stroke="#222" stroke-width="0.95"/>
<line x1="357.91" y1="586.4" x2="357.91" y2="589.5" stroke="#222" stroke-width="0.95"/>
<line x1="363.58" y1="586.4" x2="363.58" y2="589.5" stroke="#222" stroke-width="0.95"/>
<line x1="369.25" y1="586.4" x2="369.25" y2="592.3" stroke="#222" stroke-width="0.95"/>
<text transform="translate(369.25,600.6) scale(1,1.13)" font-size="7.7" text-anchor="middle">150</text>
<line x1="374.92" y1="586.4" x2="374.92" y2="589.5" stroke="#222" stroke-width="0.95"/>
<line x1="380.59" y1="586.4" x2="380.59" y2="589.5" stroke="#222" stroke-width="0.95"/>
<line x1="386.26" y1="586.4" x2="386.26" y2="589.5" stroke="#222" stroke-width="0.95"/>
<line x1="391.93" y1="586.4" x2="391.93" y2="589.5" stroke="#222" stroke-width="0.95"/>
<line x1="397.6" y1="586.4" x2="397.6" y2="592.3" stroke="#222" stroke-width="0.95"/>
<text transform="translate(397.6,600.6) scale(1,1.13)" font-size="7.7" text-anchor="middle">200</text>
<line x1="403.27" y1="586.4" x2="403.27" y2="589.5" stroke="#222" stroke-width="0.95"/>
<text x="142.3" y="320" font-size="9.6">F12</text>
<text x="286.3" y="319.8" font-size="9.6">F24</text>
<text x="143.3" y="466.6" font-size="9.55">F12:ME0054 (1:10)</text>
<text x="286.3" y="467.2" font-size="9.65">F24:ME0054 (1:10)</text>
<text x="271.5" y="612.7" font-size="9.7" text-anchor="middle">Sedimentation coefficient in water at 20&#176;C (S)</text>
<text transform="translate(84.3,440.1) rotate(-90)" font-size="9.75" text-anchor="middle">Molecular weight (Da)</text>
<text transform="translate(436.2,440.1) rotate(90)" font-size="9.75" text-anchor="middle">Percent of total concentration</text>
<circle cx="253.4" cy="309.8" r="1.75" fill="#740074" stroke="#000" stroke-width="1"/>
<circle cx="249.1" cy="317.2" r="1.5" fill="#8e8e8e"/>
<circle cx="246" cy="322.2" r="1.5" fill="#696969"/>
<circle cx="238.4" cy="334.6" r="1.5" fill="#acacac"/>
<circle cx="233" cy="342.6" r="1.5" fill="#626262"/>
<circle cx="231.8" cy="344.8" r="1.5" fill="#c3c3c3"/>
<circle cx="226.5" cy="352.7" r="1.5" fill="#acacac"/>
<circle cx="218.6" cy="364.2" r="1.5" fill="#1e1e1e"/>
<circle cx="216" cy="367.6" r="1.5" fill="#c3c3c3"/>
<circle cx="211.6" cy="373.7" r="1.5" fill="#535353"/>
<circle cx="204" cy="383.9" r="1.5" fill="#3c3c3c"/>
<circle cx="201.5" cy="387.1" r="1.5" fill="#acacac"/>
<circle cx="197.6" cy="391.5" r="1.5" fill="#3c3c3c"/>
<circle cx="194.7" cy="395" r="1.5" fill="#3c3c3c"/>
<circle cx="190.3" cy="400.6" r="1.5" fill="#2d2d2d"/>
<circle cx="186.9" cy="408.4" r="1.75" fill="#460046" stroke="#000" stroke-width="1"/>
<circle cx="183.5" cy="420.4" r="1.5" fill="#0f0f0f"/>
<circle cx="180.8" cy="429.3" r="1.5" fill="#0f0f0f"/>
<circle cx="179.1" cy="432.3" r="1.75" fill="#640064" stroke="#000" stroke-width="1"/>
<circle cx="175" cy="435" r="1.75" fill="#e000e0" stroke="#000" stroke-width="1"/>
<circle cx="171.1" cy="435.6" r="1.75" fill="#930093" stroke="#000" stroke-width="1"/>
<circle cx="166.4" cy="436" r="1.75" fill="#ff00ff" stroke="#000" stroke-width="1"/>
<circle cx="163.3" cy="436.3" r="1.75" fill="#640064" stroke="#000" stroke-width="1"/>
<circle cx="160.4" cy="436.5" r="1.75" fill="#c100c1" stroke="#000" stroke-width="1"/>
<circle cx="158.1" cy="436.8" r="1.75" fill="#b200b2" stroke="#000" stroke-width="1"/>
<circle cx="156.3" cy="436.9" r="1.75" fill="#930093" stroke="#000" stroke-width="1"/>
<circle cx="154" cy="437.1" r="1.75" fill="#640064" stroke="#000" stroke-width="1"/>
<circle cx="151.2" cy="437.1" r="1.75" fill="#270027" stroke="#000" stroke-width="1"/>
<circle cx="145.2" cy="437.1" r="1.75" fill="#460046" stroke="#000" stroke-width="1"/>
<circle cx="140.8" cy="437.2" r="1.5" fill="#cacaca"/>
<circle cx="286.5" cy="437.3" r="1.4" fill="#000000"/>
<circle cx="287.26" cy="437.28" r="1.4" fill="#270027"/>
<circle cx="288.03" cy="437.25" r="1.4" fill="#080008"/>
<circle cx="288.79" cy="437.2" r="1.4" fill="#740074"/>
<circle cx="289.55" cy="437.13" r="1.4" fill="#000000"/>
<circle cx="290.32" cy="437.06" r="1.4" fill="#460046"/>
<circle cx="291.08" cy="436.98" r="1.4" fill="#000000"/>
<circle cx="291.84" cy="436.9" r="1.4" fill="#270027"/>
<circle cx="292.61" cy="436.8" r="1.4" fill="#080008"/>
<circle cx="293.37" cy="436.69" r="1.4" fill="#740074"/>
<circle cx="294.13" cy="436.58" r="1.4" fill="#000000"/>
<circle cx="294.89" cy="436.47" r="1.4" fill="#460046"/>
<circle cx="295.66" cy="436.34" r="1.4" fill="#000000"/>
<circle cx="296.42" cy="436.21" r="1.4" fill="#270027"/>
<circle cx="297.18" cy="436.07" r="1.4" fill="#080008"/>
<circle cx="297.95" cy="435.93" r="1.4" fill="#740074"/>
<circle cx="298.71" cy="435.78" r="1.4" fill="#000000"/>
<circle cx="299.47" cy="435.63" r="1.4" fill="#460046"/>
<circle cx="300.24" cy="435.47" r="1.4" fill="#000000"/>
<circle cx="301" cy="435.3" r="1.4" fill="#270027"/>
<circle cx="306.3" cy="433.1" r="1.45" fill="#0f0f0f"/>
<circle cx="303.4" cy="434.5" r="1.35" fill="#1e1e1e"/>
<circle cx="300.3" cy="435.4" r="1.3" fill="#740074" stroke="#000" stroke-width="1"/>
<circle cx="290.6" cy="437.3" r="1.3" fill="#ff20ff"/>
<circle cx="286.6" cy="437.1" r="1.75" fill="#c020d0"/><circle cx="286.6" cy="437.4" r="0.95" fill="#40e8ff"/>
<circle cx="312.2" cy="428.8" r="2.35" fill="url(#g24)" stroke="#1a0020" stroke-width="0.9"/>
<circle cx="189.9" cy="566.1" r="1.5" fill="#787878"/>
<circle cx="185.2" cy="569.9" r="1.5" fill="#acacac"/>
<circle cx="180.8" cy="573.3" r="1.4" fill="#bcbcbc"/>
<circle cx="176.7" cy="575.3" r="1.4" fill="#878787"/>
<circle cx="173.4" cy="577" r="1.4" fill="#878787"/>
<circle cx="170" cy="578.4" r="1.4" fill="#5a5a5a"/>
<circle cx="166.6" cy="579.7" r="1.4" fill="#3c3c3c"/>
<circle cx="144" cy="583.4" r="1.4" fill="#000000"/>
<circle cx="144.76" cy="583.4" r="1.4" fill="#360036"/>
<circle cx="145.52" cy="583.38" r="1.4" fill="#080008"/>
<circle cx="146.28" cy="583.37" r="1.4" fill="#640064"/>
<circle cx="147.04" cy="583.34" r="1.4" fill="#000000"/>
<circle cx="147.8" cy="583.3" r="1.4" fill="#170017"/>
<circle cx="148.56" cy="583.26" r="1.4" fill="#c100c1"/>
<circle cx="149.32" cy="583.21" r="1.4" fill="#000000"/>
<circle cx="150.08" cy="583.15" r="1.4" fill="#360036"/>
<circle cx="150.84" cy="583.09" r="1.4" fill="#080008"/>
<circle cx="151.6" cy="583.02" r="1.4" fill="#640064"/>
<circle cx="152.36" cy="582.94" r="1.4" fill="#000000"/>
<circle cx="153.12" cy="582.85" r="1.4" fill="#170017"/>
<circle cx="153.88" cy="582.75" r="1.4" fill="#c100c1"/>
<circle cx="154.64" cy="582.65" r="1.4" fill="#000000"/>
<circle cx="155.4" cy="582.54" r="1.4" fill="#360036"/>
<circle cx="156.16" cy="582.42" r="1.4" fill="#080008"/>
<circle cx="156.92" cy="582.29" r="1.4" fill="#640064"/>
<circle cx="157.68" cy="582.16" r="1.4" fill="#000000"/>
<circle cx="158.44" cy="582.01" r="1.4" fill="#170017"/>
<circle cx="159.2" cy="581.86" r="1.4" fill="#c100c1"/>
<circle cx="159.96" cy="581.71" r="1.4" fill="#000000"/>
<circle cx="160.72" cy="581.54" r="1.4" fill="#360036"/>
<circle cx="161.48" cy="581.37" r="1.4" fill="#080008"/>
<circle cx="162.24" cy="581.19" r="1.4" fill="#640064"/>
<circle cx="163" cy="581" r="1.4" fill="#000000"/>
<circle cx="143.4" cy="583.3" r="1.75" fill="#c020d0"/><circle cx="143.4" cy="583.6" r="0.95" fill="#40e8ff"/>
<circle cx="196.6" cy="559.4" r="1.95" fill="url(#g12)" stroke="#1a0020" stroke-width="0.9"/>
<circle cx="306.7" cy="578.4" r="1.5" fill="#878787"/>
<circle cx="303.8" cy="579.8" r="1.4" fill="#696969"/>
<circle cx="301.9" cy="581" r="1.4" fill="#1e1e1e"/>
<circle cx="287" cy="583.7" r="1.4" fill="#000000"/>
<circle cx="287.71" cy="583.68" r="1.4" fill="#2e002e"/>
<circle cx="288.42" cy="583.65" r="1.4" fill="#080008"/>
<circle cx="289.13" cy="583.6" r="1.4" fill="#830083"/>
<circle cx="289.84" cy="583.53" r="1.4" fill="#000000"/>
<circle cx="290.55" cy="583.45" r="1.4" fill="#460046"/>
<circle cx="291.26" cy="583.36" r="1.4" fill="#000000"/>
<circle cx="291.97" cy="583.26" r="1.4" fill="#2e002e"/>
<circle cx="292.68" cy="583.15" r="1.4" fill="#080008"/>
<circle cx="293.39" cy="583.03" r="1.4" fill="#830083"/>
<circle cx="294.11" cy="582.89" r="1.4" fill="#000000"/>
<circle cx="294.82" cy="582.75" r="1.4" fill="#460046"/>
<circle cx="295.53" cy="582.6" r="1.4" fill="#000000"/>
<circle cx="296.24" cy="582.44" r="1.4" fill="#2e002e"/>
<circle cx="296.95" cy="582.27" r="1.4" fill="#080008"/>
<circle cx="297.66" cy="582.09" r="1.4" fill="#830083"/>
<circle cx="298.37" cy="581.91" r="1.4" fill="#000000"/>
<circle cx="299.08" cy="581.71" r="1.4" fill="#460046"/>
<circle cx="299.79" cy="581.51" r="1.4" fill="#000000"/>
<circle cx="300.5" cy="581.3" r="1.4" fill="#2e002e"/>
<circle cx="286.5" cy="583.6" r="1.75" fill="#c020d0"/><circle cx="286.5" cy="583.9" r="0.95" fill="#40e8ff"/>
<circle cx="312.3" cy="575.4" r="2.55" fill="url(#g24m)" stroke="#1a0020" stroke-width="0.9"/>
<circle cx="312.3" cy="575.4" r="0.75" fill="#f0a060"/>
</svg></body></html>
